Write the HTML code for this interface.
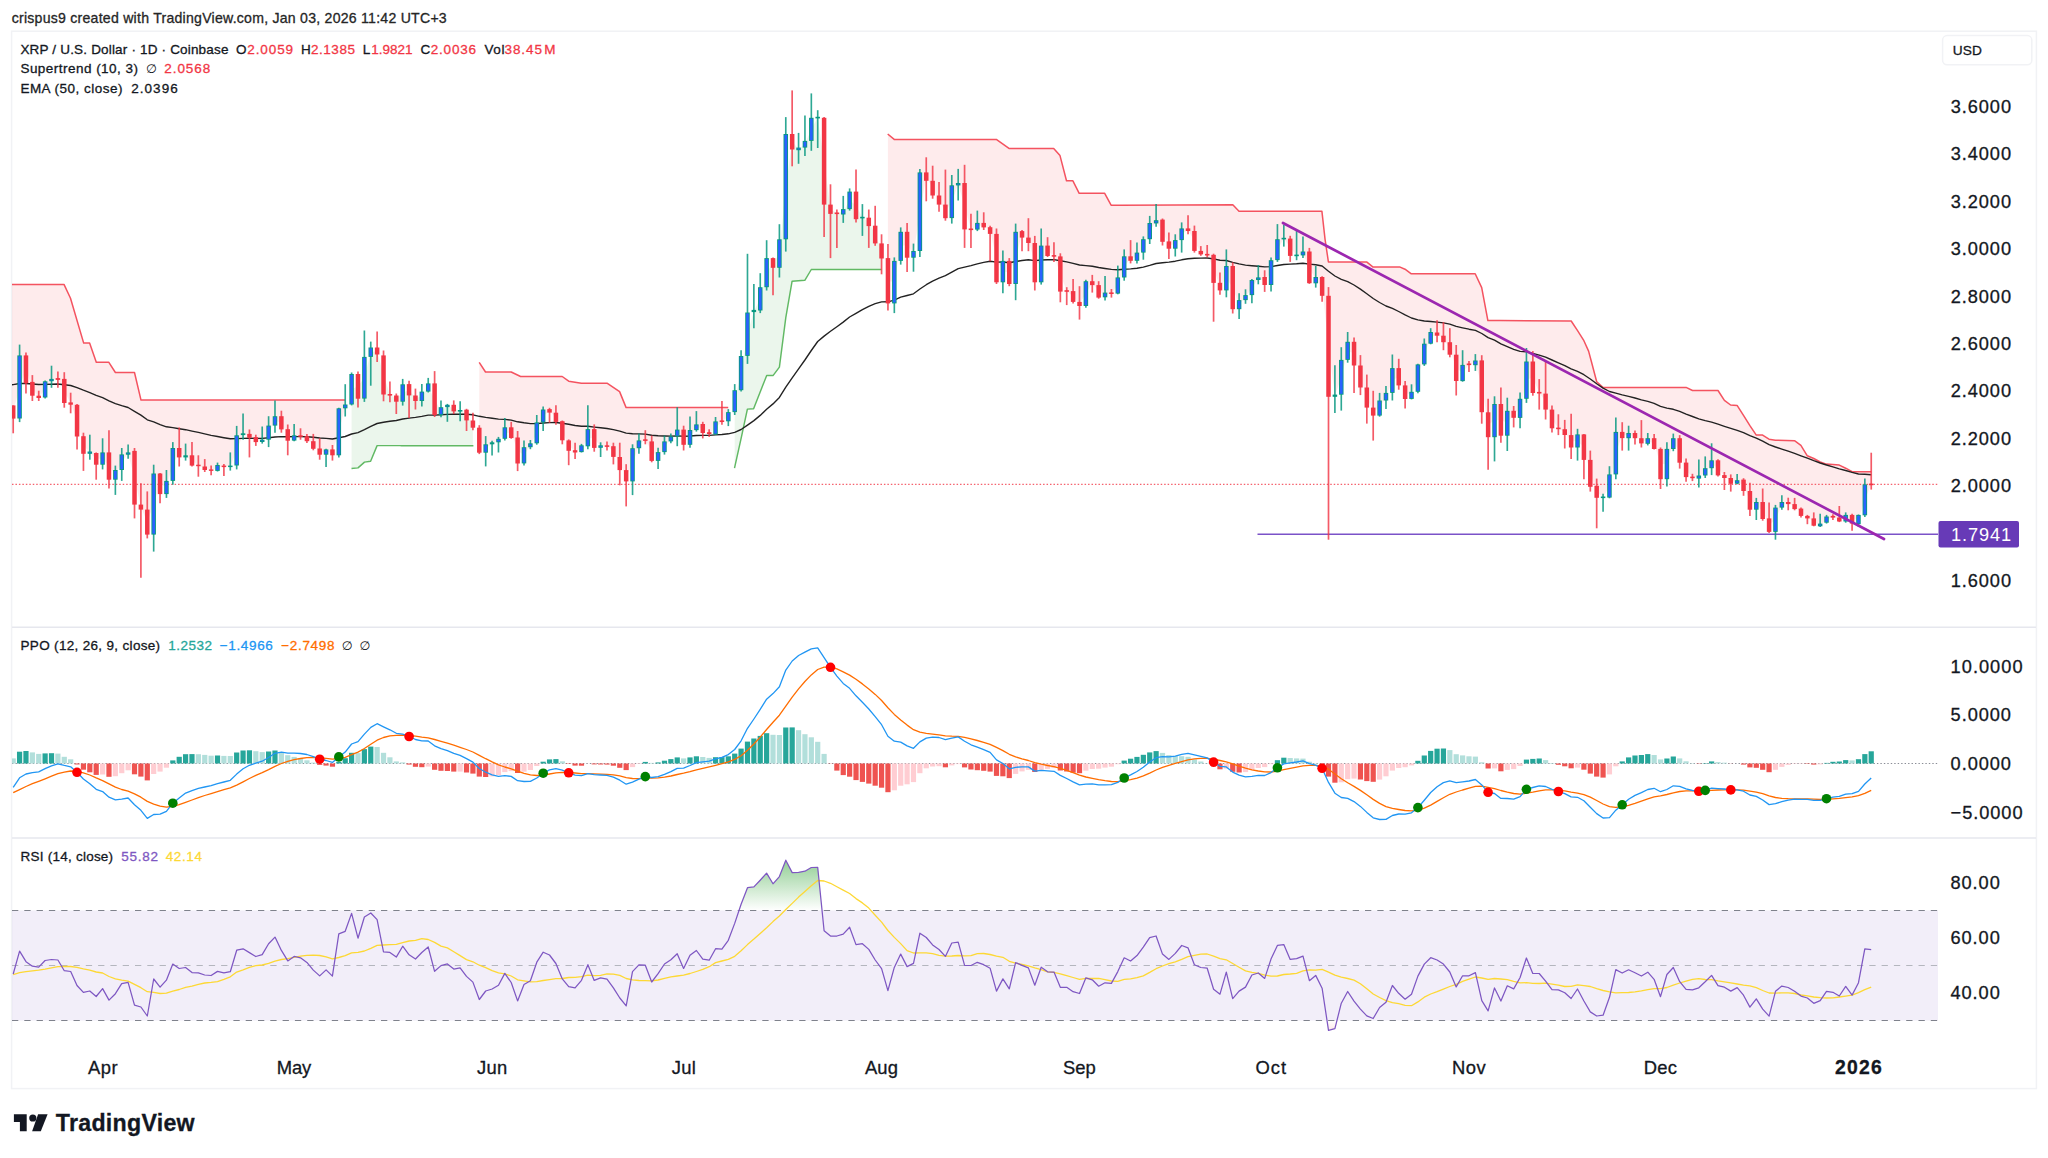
<!DOCTYPE html>
<html><head><meta charset="utf-8"><title>XRP / U.S. Dollar</title>
<style>
html,body{margin:0;padding:0;background:#fff;}
body{width:2048px;height:1158px;overflow:hidden;position:relative;font-family:"Liberation Sans",sans-serif;color:#131722;}
svg{position:absolute;left:0;top:0;}
.t{position:absolute;white-space:nowrap;line-height:1;}
text{font-family:"Liberation Sans",sans-serif;stroke-width:0.3px;}
.red{color:#f23645}
</style></head><body>
<svg width="2048" height="1158" viewBox="0 0 2048 1158">
<defs>
<clipPath id="cpMain"><rect x="12" y="32" width="1926" height="595"/></clipPath>
<clipPath id="cpPPO"><rect x="12" y="628" width="1926" height="210"/></clipPath>
<clipPath id="cpRSI"><rect x="12" y="839" width="1926" height="205"/></clipPath>
<linearGradient id="obg" gradientUnits="userSpaceOnUse" x1="0" y1="828.0" x2="0" y2="910.5"><stop offset="0" stop-color="#4caf50" stop-opacity="1"/><stop offset="1" stop-color="#4caf50" stop-opacity="0"/></linearGradient>
<linearGradient id="osg" gradientUnits="userSpaceOnUse" x1="0" y1="1020.5" x2="0" y2="1103.0"><stop offset="0" stop-color="#f44336" stop-opacity="0"/><stop offset="1" stop-color="#f44336" stop-opacity="1"/></linearGradient>
</defs>
<rect x="11.6" y="31.2" width="2024.8" height="1057.4" fill="none" stroke="#f1f2f5" stroke-width="1.5"/>
<line x1="12" y1="627.3" x2="2036" y2="627.3" stroke="#e6e7ee" stroke-width="1.6"/>
<line x1="12" y1="838.0" x2="2036" y2="838.0" stroke="#e6e7ee" stroke-width="1.6"/>
<g clip-path="url(#cpMain)">
<polygon points="12.0,284.4 64.0,284.4 70.5,298.2 83.7,343.1 89.6,343.1 96.3,362.2 108.7,362.2 115.4,372.5 134.5,372.5 141.0,400.1 345.1,400.1 345.2,406.4 338.8,431.8 332.4,452.4 326.1,452.1 319.7,451.6 313.3,445.0 306.9,438.7 300.5,436.1 294.1,438.0 287.8,434.9 281.4,422.8 275.0,420.9 268.6,432.7 262.2,440.9 255.8,439.6 249.4,435.8 243.1,434.2 236.7,450.5 230.3,466.3 223.9,466.3 217.5,467.9 211.1,470.1 204.7,468.2 198.4,465.4 192.0,460.4 185.6,456.3 179.2,452.7 172.8,464.4 166.4,487.5 160.1,483.8 153.7,504.1 147.3,522.1 140.9,507.1 134.5,477.8 128.1,453.5 121.7,462.2 115.4,474.8 109.0,466.0 102.6,458.5 96.2,458.8 89.8,452.7 83.4,445.0 77.0,420.6 70.7,403.6 64.3,391.0 57.9,378.9 51.5,380.1 45.1,389.4 38.7,396.9 32.4,388.8 26.0,369.4 19.6,387.0 13.2,412.0 12.0,412.0" fill="rgba(242,54,69,0.10)"/>
<polygon points="479.3,362.3 485.5,372.0 511.2,372.0 520.6,376.5 562.2,376.5 568.7,381.2 581.4,383.2 607.0,383.2 619.6,391.6 626.1,407.6 728.2,407.6 728.3,416.7 721.9,421.2 715.6,428.0 709.2,433.1 702.8,428.5 696.4,427.2 690.0,437.5 683.6,437.3 677.2,433.1 670.9,438.9 664.5,446.7 658.1,456.5 651.7,451.1 645.3,440.1 638.9,444.3 632.5,464.8 626.2,475.7 619.8,463.5 613.4,451.6 607.0,446.1 600.6,446.5 594.2,438.4 587.9,437.7 581.5,448.7 575.1,451.3 568.7,445.6 562.3,430.8 555.9,417.2 549.5,410.9 543.2,416.0 536.8,432.9 530.4,445.3 524.0,455.3 517.6,450.4 511.2,432.7 504.8,433.1 498.5,440.6 492.1,443.3 485.7,448.5 479.3,440.2" fill="rgba(242,54,69,0.10)"/>
<polygon points="887.9,134.0 894.2,139.4 996.3,139.4 1009.0,148.4 1053.7,148.4 1060.0,155.6 1066.5,180.8 1072.9,180.8 1079.2,193.3 1104.7,193.3 1111.1,205.2 1120.0,205.2 1232.8,204.7 1239.0,211.2 1321.9,211.2 1325.1,239.6 1328.4,261.9 1366.6,261.9 1373.1,267.1 1400.1,267.1 1405.0,269.2 1411.3,273.8 1475.2,273.8 1481.7,287.6 1487.9,320.6 1500.0,320.6 1571.2,321.0 1577.4,330.4 1583.9,340.7 1588.6,351.1 1591.9,363.5 1596.7,381.8 1602.9,387.4 1686.1,387.4 1692.5,390.5 1718.0,390.5 1724.4,400.4 1730.6,405.0 1737.1,405.4 1743.5,415.4 1749.9,425.7 1756.3,435.1 1762.6,435.1 1769.0,439.2 1775.4,440.2 1794.5,440.7 1800.9,445.4 1807.3,455.8 1813.8,458.5 1820.2,462.0 1826.4,464.1 1839.3,465.1 1845.7,468.2 1852.1,471.7 1871.2,471.7 1871.2,484.4 1864.8,499.8 1858.5,519.5 1852.1,519.2 1845.7,518.2 1839.3,519.5 1832.9,516.7 1826.5,519.6 1820.2,524.9 1813.8,522.0 1807.4,517.1 1801.0,512.3 1794.6,506.6 1788.2,503.1 1781.8,504.8 1775.5,519.7 1769.1,525.1 1762.7,510.5 1756.3,505.8 1749.9,500.4 1743.5,485.3 1737.2,482.0 1730.8,480.9 1724.4,476.5 1718.0,467.9 1711.6,464.3 1705.2,471.9 1698.8,477.0 1692.5,477.4 1686.1,469.9 1679.7,450.4 1673.3,443.6 1666.9,464.1 1660.5,464.1 1654.1,443.6 1647.8,441.0 1641.4,440.8 1635.0,435.6 1628.6,435.6 1622.2,435.1 1615.8,453.2 1609.5,486.1 1603.1,497.3 1596.7,491.9 1590.3,473.4 1583.9,447.2 1577.5,441.0 1571.1,441.3 1564.8,432.2 1558.4,428.4 1552.0,418.9 1545.6,401.6 1539.2,392.7 1532.8,377.2 1526.4,380.1 1520.1,408.3 1513.7,414.3 1507.3,423.2 1500.9,419.8 1494.5,420.5 1488.1,424.7 1481.8,386.3 1475.4,362.9 1469.0,364.3 1462.6,372.9 1456.2,367.9 1449.8,348.4 1443.4,338.9 1437.1,334.1 1430.7,337.9 1424.3,354.1 1417.9,378.1 1411.5,395.4 1405.1,392.2 1398.7,376.7 1392.4,380.5 1386.0,396.7 1379.6,408.0 1373.2,411.6 1366.8,397.6 1360.4,376.5 1354.0,353.6 1347.7,350.8 1341.3,377.3 1334.9,395.7 1328.5,346.3 1322.1,286.4 1315.7,280.1 1309.4,267.4 1303.0,253.5 1296.6,255.4 1290.2,247.2 1283.8,238.6 1277.4,249.7 1271.0,272.6 1264.7,281.0 1258.3,278.7 1251.9,287.6 1245.5,297.6 1239.1,304.6 1232.7,287.6 1226.3,278.2 1220.0,286.6 1213.6,268.8 1207.2,254.7 1200.8,252.6 1194.4,240.9 1188.0,229.7 1181.7,234.3 1175.3,244.4 1168.9,245.0 1162.5,230.7 1156.1,221.8 1149.7,231.1 1143.3,245.9 1137.0,256.7 1130.6,258.5 1124.2,266.8 1117.8,285.5 1111.4,293.2 1105.0,295.0 1098.7,291.3 1092.3,283.1 1085.9,293.6 1079.5,304.0 1073.1,296.5 1066.7,291.0 1060.3,274.0 1054.0,255.9 1047.6,250.8 1041.2,263.9 1034.8,262.6 1028.4,240.3 1022.0,234.3 1015.6,257.9 1009.3,272.4 1002.9,271.6 996.5,258.1 990.1,230.6 983.7,225.2 977.3,226.2 971.0,229.3 964.6,206.2 958.2,184.2 951.8,201.7 945.4,211.4 939.0,200.0 932.6,188.1 926.3,176.6 919.9,211.7 913.5,254.3 907.1,244.7 900.7,246.3 894.3,282.2 887.9,280.8" fill="rgba(242,54,69,0.10)"/>
<polygon points="351.6,468.5 358.0,467.9 364.5,462.1 370.6,461.2 377.1,445.6 400.0,445.6 401.5,445.7 472.9,445.7 472.9,424.1 466.5,415.1 460.1,410.8 453.8,408.2 447.4,406.0 441.0,411.1 434.6,399.2 428.2,387.5 421.8,396.2 415.5,398.2 409.1,389.8 402.7,393.0 396.3,398.6 389.9,394.8 383.5,375.0 377.1,351.0 370.8,352.2 364.4,377.8 358.0,386.3 351.6,389.2" fill="rgba(76,175,80,0.11)"/>
<polygon points="734.7,468.1 740.9,439.4 747.4,409.1 753.6,408.8 766.7,375.4 773.2,375.4 779.4,367.1 785.8,317.7 792.1,281.2 804.8,280.3 811.3,269.5 881.5,269.5 881.6,251.0 875.2,234.6 868.8,221.9 862.4,217.6 856.0,205.4 849.6,200.3 843.2,211.8 836.9,213.3 830.5,209.2 824.1,161.2 817.7,117.6 811.3,129.3 804.9,144.2 798.6,148.9 792.2,141.7 785.8,186.6 779.4,253.6 773.0,262.9 766.6,272.7 760.2,298.9 753.9,311.0 747.5,334.2 741.1,373.1 734.7,401.1" fill="rgba(76,175,80,0.11)"/>
<polyline points="12.0,284.4 64.0,284.4 70.5,298.2 83.7,343.1 89.6,343.1 96.3,362.2 108.7,362.2 115.4,372.5 134.5,372.5 141.0,400.1 345.1,400.1" fill="none" stroke="#f23645" stroke-opacity="0.85" stroke-width="1.5" stroke-linejoin="round"/>
<polyline points="479.2,362.3 485.5,372.0 511.2,372.0 520.6,376.5 562.2,376.5 568.7,381.2 581.4,383.2 607.0,383.2 619.6,391.6 626.1,407.6 728.2,407.6" fill="none" stroke="#f23645" stroke-opacity="0.85" stroke-width="1.5" stroke-linejoin="round"/>
<polyline points="887.7,134.0 894.2,139.4 996.3,139.4 1009.0,148.4 1053.7,148.4 1060.0,155.6 1066.5,180.8 1072.9,180.8 1079.2,193.3 1104.7,193.3 1111.1,205.2 1120.0,205.2 1232.8,204.7 1239.0,211.2 1321.9,211.2 1325.1,239.6 1328.4,261.9 1366.6,261.9 1373.1,267.1 1400.1,267.1 1405.0,269.2 1411.3,273.8 1475.2,273.8 1481.7,287.6 1487.9,320.6 1500.0,320.6 1571.2,321.0 1577.4,330.4 1583.9,340.7 1588.6,351.1 1591.9,363.5 1596.7,381.8 1602.9,387.4 1686.1,387.4 1692.5,390.5 1718.0,390.5 1724.4,400.4 1730.6,405.0 1737.1,405.4 1743.5,415.4 1749.9,425.7 1756.3,435.1 1762.6,435.1 1769.0,439.2 1775.4,440.2 1794.5,440.7 1800.9,445.4 1807.3,455.8 1813.8,458.5 1820.2,462.0 1826.4,464.1 1839.3,465.1 1845.7,468.2 1852.1,471.7 1871.2,471.7" fill="none" stroke="#f23645" stroke-opacity="0.85" stroke-width="1.5" stroke-linejoin="round"/>
<polyline points="351.5,468.5 358.0,467.9 364.5,462.1 370.6,461.2 377.1,445.6 400.0,445.6 401.5,445.7 473.4,445.7" fill="none" stroke="#4caf50" stroke-opacity="0.88" stroke-width="1.45" stroke-linejoin="round"/>
<polyline points="734.5,468.1 740.9,439.4 747.4,409.1 753.6,408.8 766.7,375.4 773.2,375.4 779.4,367.1 785.8,317.7 792.1,281.2 804.8,280.3 811.3,269.5 881.5,269.5" fill="none" stroke="#4caf50" stroke-opacity="0.88" stroke-width="1.45" stroke-linejoin="round"/>
<line x1="12" y1="484.4" x2="1938" y2="484.4" stroke="#f23645" stroke-opacity="0.78" stroke-width="1.4" stroke-dasharray="1.5 1.96"/>
<line x1="1257.5" y1="534.2" x2="1938" y2="534.2" stroke="#7b52c8" stroke-width="1.5"/>
<polyline points="12.0,384.7 13.2,384.6 19.6,383.5 26.0,383.5 32.4,384.0 38.7,384.5 45.1,384.4 51.5,384.2 57.9,384.0 64.3,384.8 70.7,385.5 77.0,387.6 83.4,390.2 89.8,392.6 96.2,395.4 102.6,397.7 109.0,400.9 115.4,403.6 121.7,405.7 128.1,407.5 134.5,411.3 140.9,415.1 147.3,419.8 153.7,421.8 160.1,424.6 166.4,426.8 172.8,427.6 179.2,428.7 185.6,429.7 192.0,431.1 198.4,432.4 204.7,433.9 211.1,435.4 217.5,436.5 223.9,437.7 230.3,438.8 236.7,438.6 243.1,438.4 249.4,438.3 255.8,438.4 262.2,438.4 268.6,437.8 275.0,437.0 281.4,436.6 287.8,436.7 294.1,436.6 300.5,436.6 306.9,436.8 313.3,437.3 319.7,438.0 326.1,438.4 332.4,439.0 338.8,437.8 345.2,436.5 351.6,434.0 358.0,432.6 364.4,429.6 370.8,426.3 377.1,423.5 383.5,422.3 389.9,421.3 396.3,420.5 402.7,419.0 409.1,418.1 415.5,417.4 421.8,416.4 428.2,415.1 434.6,415.1 441.0,414.8 447.4,414.4 453.8,414.2 460.1,414.1 466.5,414.3 472.9,414.8 479.3,416.3 485.7,417.4 492.1,418.3 498.5,419.1 504.8,419.4 511.2,420.1 517.6,421.8 524.0,422.8 530.4,423.6 536.8,423.6 543.2,423.0 549.5,422.6 555.9,422.5 562.3,423.3 568.7,424.3 575.1,425.5 581.5,426.2 587.9,426.3 594.2,427.1 600.6,427.8 607.0,428.5 613.4,429.6 619.8,431.2 626.2,433.1 632.5,433.7 638.9,433.9 645.3,434.1 651.7,435.2 658.1,435.8 664.5,436.0 670.9,436.1 677.2,435.9 683.6,436.2 690.0,436.0 696.4,435.5 702.8,435.4 709.2,435.4 715.6,434.9 721.9,434.5 728.3,433.8 734.7,432.3 741.1,429.5 747.5,425.1 753.9,420.6 760.2,415.4 766.6,409.3 773.0,403.9 779.4,397.4 785.8,387.2 792.2,377.9 798.6,368.9 804.9,360.0 811.3,350.5 817.7,341.5 824.1,336.1 830.5,331.3 836.9,326.7 843.2,322.1 849.6,317.0 856.0,313.3 862.4,309.6 868.8,306.3 875.2,303.7 881.6,301.9 887.9,301.8 894.3,300.1 900.7,297.2 907.1,295.5 913.5,293.8 919.9,289.0 926.3,284.7 932.6,281.1 939.0,278.1 945.4,275.7 951.8,272.2 958.2,268.6 964.6,267.1 971.0,265.6 977.3,263.9 983.7,262.4 990.1,261.2 996.5,262.1 1002.9,262.0 1009.3,262.8 1015.6,261.5 1022.0,260.5 1028.4,259.8 1034.8,260.6 1041.2,260.0 1047.6,259.8 1054.0,259.6 1060.3,260.8 1066.7,261.9 1073.1,263.4 1079.5,265.0 1085.9,265.6 1092.3,266.3 1098.7,267.5 1105.0,268.5 1111.4,269.4 1117.8,269.8 1124.2,269.2 1130.6,268.9 1137.0,268.2 1143.3,267.1 1149.7,265.4 1156.1,263.5 1162.5,262.7 1168.9,262.1 1175.3,261.2 1181.7,259.8 1188.0,258.7 1194.4,258.3 1200.8,258.1 1207.2,258.0 1213.6,258.9 1220.0,260.2 1226.3,260.5 1232.7,262.4 1239.1,263.9 1245.5,265.1 1251.9,265.7 1258.3,266.2 1264.7,266.9 1271.0,266.6 1277.4,265.5 1283.8,264.5 1290.2,264.1 1296.6,263.8 1303.0,263.3 1309.4,264.1 1315.7,264.7 1322.1,266.0 1328.5,271.2 1334.9,276.0 1341.3,279.3 1347.7,281.7 1354.0,285.0 1360.4,289.1 1366.8,293.7 1373.2,298.5 1379.6,302.5 1386.0,306.0 1392.4,308.4 1398.7,311.5 1405.1,314.9 1411.5,318.0 1417.9,319.9 1424.3,321.0 1430.7,321.5 1437.1,322.1 1443.4,322.9 1449.8,324.1 1456.2,326.3 1462.6,327.8 1469.0,329.2 1475.4,330.4 1481.8,333.5 1488.1,337.6 1494.5,340.2 1500.9,343.9 1507.3,346.6 1513.7,349.4 1520.1,351.4 1526.4,351.8 1532.8,353.5 1539.2,355.1 1545.6,357.2 1552.0,360.0 1558.4,362.8 1564.8,365.6 1571.1,368.8 1577.5,371.3 1583.9,374.7 1590.3,379.0 1596.7,383.7 1603.1,388.1 1609.5,391.5 1615.8,393.1 1622.2,394.9 1628.6,396.4 1635.0,398.0 1641.4,399.9 1647.8,401.4 1654.1,403.3 1660.5,406.4 1666.9,408.1 1673.3,409.3 1679.7,411.4 1686.1,414.1 1692.5,416.5 1698.8,418.8 1705.2,420.7 1711.6,422.2 1718.0,424.2 1724.4,426.3 1730.8,428.4 1737.2,430.4 1743.5,432.7 1749.9,435.6 1756.3,438.1 1762.7,441.2 1769.1,444.6 1775.5,447.0 1781.8,449.1 1788.2,451.2 1794.6,453.4 1801.0,455.8 1807.4,458.2 1813.8,460.7 1820.2,463.0 1826.5,465.0 1832.9,466.9 1839.3,468.8 1845.7,470.5 1852.1,472.4 1858.5,474.0 1864.8,474.3 1871.2,474.7" fill="none" stroke="#222" stroke-width="1.38" stroke-linejoin="round"/>
<path d="M13.20 405.4V433.3" stroke="#f23645" stroke-opacity="0.82" stroke-width="1.7"/>
<rect x="10.95" y="405.4" width="4.5" height="13.2" fill="#f23645"/>
<path d="M19.59 344.6V422.1" stroke="#089981" stroke-opacity="0.85" stroke-width="1.65"/>
<rect x="17.34" y="355.4" width="4.5" height="63.1" fill="#089981"/>
<rect x="18.23" y="356.3" width="2.7" height="61.3" fill="#2962ff"/>
<path d="M25.97 352.5V393.6" stroke="#f23645" stroke-opacity="0.82" stroke-width="1.7"/>
<rect x="23.72" y="355.4" width="4.5" height="27.9" fill="#f23645"/>
<path d="M32.36 375.1V401.0" stroke="#f23645" stroke-opacity="0.82" stroke-width="1.7"/>
<rect x="30.11" y="381.9" width="4.5" height="13.8" fill="#f23645"/>
<path d="M38.74 390.7V401.0" stroke="#f23645" stroke-opacity="0.82" stroke-width="1.7"/>
<rect x="36.49" y="395.7" width="4.5" height="2.3" fill="#f23645"/>
<path d="M45.12 380.4V398.6" stroke="#089981" stroke-opacity="0.85" stroke-width="1.65"/>
<rect x="42.88" y="381.3" width="4.5" height="16.2" fill="#089981"/>
<rect x="43.77" y="382.2" width="2.7" height="14.4" fill="#2962ff"/>
<path d="M51.51 365.7V387.8" stroke="#089981" stroke-opacity="0.85" stroke-width="1.65"/>
<rect x="49.26" y="378.9" width="4.5" height="2.3" fill="#089981"/>
<rect x="50.16" y="379.8" width="2.7" height="0.5" fill="#2962ff"/>
<path d="M57.89 371.6V387.8" stroke="#f23645" stroke-opacity="0.82" stroke-width="1.7"/>
<rect x="55.64" y="378.1" width="4.5" height="1.8" fill="#f23645"/>
<path d="M64.28 372.2V407.7" stroke="#f23645" stroke-opacity="0.82" stroke-width="1.7"/>
<rect x="62.03" y="378.9" width="4.5" height="24.1" fill="#f23645"/>
<path d="M70.66 392.7V413.3" stroke="#f23645" stroke-opacity="0.82" stroke-width="1.7"/>
<rect x="68.41" y="402.4" width="4.5" height="2.3" fill="#f23645"/>
<path d="M77.05 403.9V449.4" stroke="#f23645" stroke-opacity="0.82" stroke-width="1.7"/>
<rect x="74.80" y="404.8" width="4.5" height="31.7" fill="#f23645"/>
<path d="M83.44 432.7V470.9" stroke="#f23645" stroke-opacity="0.82" stroke-width="1.7"/>
<rect x="81.19" y="436.2" width="4.5" height="17.6" fill="#f23645"/>
<path d="M89.82 434.7V459.7" stroke="#089981" stroke-opacity="0.85" stroke-width="1.65"/>
<rect x="87.57" y="451.5" width="4.5" height="2.3" fill="#089981"/>
<rect x="88.47" y="452.4" width="2.7" height="0.5" fill="#2962ff"/>
<path d="M96.20 452.4V479.7" stroke="#f23645" stroke-opacity="0.82" stroke-width="1.7"/>
<rect x="93.95" y="453.0" width="4.5" height="11.7" fill="#f23645"/>
<path d="M102.59 438.3V469.4" stroke="#089981" stroke-opacity="0.85" stroke-width="1.65"/>
<rect x="100.34" y="452.4" width="4.5" height="12.3" fill="#089981"/>
<rect x="101.24" y="453.3" width="2.7" height="10.5" fill="#2962ff"/>
<path d="M108.97 430.3V488.5" stroke="#f23645" stroke-opacity="0.82" stroke-width="1.7"/>
<rect x="106.72" y="452.4" width="4.5" height="27.3" fill="#f23645"/>
<path d="M115.36 465.6V494.9" stroke="#089981" stroke-opacity="0.85" stroke-width="1.65"/>
<rect x="113.11" y="470.0" width="4.5" height="9.7" fill="#089981"/>
<rect x="114.01" y="470.9" width="2.7" height="7.9" fill="#2962ff"/>
<path d="M121.75 448.0V480.9" stroke="#089981" stroke-opacity="0.85" stroke-width="1.65"/>
<rect x="119.50" y="454.4" width="4.5" height="15.6" fill="#089981"/>
<rect x="120.40" y="455.3" width="2.7" height="13.8" fill="#2962ff"/>
<path d="M128.13 444.4V458.8" stroke="#089981" stroke-opacity="0.85" stroke-width="1.65"/>
<rect x="125.88" y="452.4" width="4.5" height="2.3" fill="#089981"/>
<rect x="126.78" y="453.3" width="2.7" height="0.5" fill="#2962ff"/>
<path d="M134.51 448.0V518.4" stroke="#f23645" stroke-opacity="0.82" stroke-width="1.7"/>
<rect x="132.26" y="450.9" width="4.5" height="53.7" fill="#f23645"/>
<path d="M140.90 483.2V577.8" stroke="#f23645" stroke-opacity="0.82" stroke-width="1.7"/>
<rect x="138.65" y="504.6" width="4.5" height="5.0" fill="#f23645"/>
<path d="M147.28 491.4V538.4" stroke="#f23645" stroke-opacity="0.82" stroke-width="1.7"/>
<rect x="145.03" y="509.6" width="4.5" height="25.0" fill="#f23645"/>
<path d="M153.67 464.7V551.6" stroke="#089981" stroke-opacity="0.85" stroke-width="1.65"/>
<rect x="151.42" y="473.5" width="4.5" height="61.1" fill="#089981"/>
<rect x="152.32" y="474.4" width="2.7" height="59.3" fill="#2962ff"/>
<path d="M160.05 472.9V503.2" stroke="#f23645" stroke-opacity="0.82" stroke-width="1.7"/>
<rect x="157.80" y="473.5" width="4.5" height="20.6" fill="#f23645"/>
<path d="M166.44 470.0V497.9" stroke="#089981" stroke-opacity="0.85" stroke-width="1.65"/>
<rect x="164.19" y="480.9" width="4.5" height="13.2" fill="#089981"/>
<rect x="165.09" y="481.8" width="2.7" height="11.4" fill="#2962ff"/>
<path d="M172.82 442.1V484.7" stroke="#089981" stroke-opacity="0.85" stroke-width="1.65"/>
<rect x="170.57" y="448.0" width="4.5" height="32.9" fill="#089981"/>
<rect x="171.47" y="448.9" width="2.7" height="31.1" fill="#2962ff"/>
<path d="M179.21 427.4V466.5" stroke="#f23645" stroke-opacity="0.82" stroke-width="1.7"/>
<rect x="176.96" y="448.0" width="4.5" height="9.4" fill="#f23645"/>
<path d="M185.59 443.6V460.6" stroke="#089981" stroke-opacity="0.85" stroke-width="1.65"/>
<rect x="183.34" y="455.3" width="4.5" height="2.1" fill="#089981"/>
<path d="M191.98 442.1V466.5" stroke="#f23645" stroke-opacity="0.82" stroke-width="1.7"/>
<rect x="189.73" y="455.3" width="4.5" height="10.3" fill="#f23645"/>
<path d="M198.36 455.3V476.7" stroke="#f23645" stroke-opacity="0.82" stroke-width="1.7"/>
<rect x="196.11" y="464.7" width="4.5" height="1.5" fill="#f23645"/>
<path d="M204.75 459.1V472.0" stroke="#f23645" stroke-opacity="0.82" stroke-width="1.7"/>
<rect x="202.50" y="466.5" width="4.5" height="3.5" fill="#f23645"/>
<path d="M211.13 465.6V475.3" stroke="#f23645" stroke-opacity="0.82" stroke-width="1.7"/>
<rect x="208.88" y="469.4" width="4.5" height="1.5" fill="#f23645"/>
<path d="M217.52 462.6V471.5" stroke="#089981" stroke-opacity="0.85" stroke-width="1.65"/>
<rect x="215.27" y="465.0" width="4.5" height="5.9" fill="#089981"/>
<rect x="216.17" y="465.9" width="2.7" height="4.1" fill="#2962ff"/>
<path d="M223.90 464.1V475.9" stroke="#f23645" stroke-opacity="0.82" stroke-width="1.7"/>
<rect x="221.65" y="465.6" width="4.5" height="1.5" fill="#f23645"/>
<path d="M230.29 452.4V470.6" stroke="#089981" stroke-opacity="0.85" stroke-width="1.65"/>
<rect x="228.04" y="465.6" width="4.5" height="1.5" fill="#089981"/>
<path d="M236.67 425.9V469.4" stroke="#089981" stroke-opacity="0.85" stroke-width="1.65"/>
<rect x="234.42" y="435.3" width="4.5" height="30.2" fill="#089981"/>
<rect x="235.32" y="436.2" width="2.7" height="28.4" fill="#2962ff"/>
<path d="M243.06 413.6V439.7" stroke="#089981" stroke-opacity="0.85" stroke-width="1.65"/>
<rect x="240.81" y="433.3" width="4.5" height="1.8" fill="#089981"/>
<path d="M249.44 429.5V457.4" stroke="#f23645" stroke-opacity="0.82" stroke-width="1.7"/>
<rect x="247.19" y="433.9" width="4.5" height="3.8" fill="#f23645"/>
<path d="M255.83 434.7V445.9" stroke="#f23645" stroke-opacity="0.82" stroke-width="1.7"/>
<rect x="253.58" y="437.1" width="4.5" height="5.0" fill="#f23645"/>
<path d="M262.21 426.5V443.6" stroke="#089981" stroke-opacity="0.85" stroke-width="1.65"/>
<rect x="259.96" y="439.7" width="4.5" height="2.3" fill="#089981"/>
<rect x="260.86" y="440.6" width="2.7" height="0.5" fill="#2962ff"/>
<path d="M268.60 416.2V447.1" stroke="#089981" stroke-opacity="0.85" stroke-width="1.65"/>
<rect x="266.35" y="425.6" width="4.5" height="14.1" fill="#089981"/>
<rect x="267.25" y="426.5" width="2.7" height="12.3" fill="#2962ff"/>
<path d="M274.98 400.4V432.7" stroke="#089981" stroke-opacity="0.85" stroke-width="1.65"/>
<rect x="272.73" y="416.2" width="4.5" height="9.4" fill="#089981"/>
<rect x="273.63" y="417.1" width="2.7" height="7.6" fill="#2962ff"/>
<path d="M281.37 410.7V432.7" stroke="#f23645" stroke-opacity="0.82" stroke-width="1.7"/>
<rect x="279.12" y="416.2" width="4.5" height="13.2" fill="#f23645"/>
<path d="M287.75 424.5V455.3" stroke="#f23645" stroke-opacity="0.82" stroke-width="1.7"/>
<rect x="285.50" y="429.2" width="4.5" height="11.5" fill="#f23645"/>
<path d="M294.14 423.9V441.2" stroke="#089981" stroke-opacity="0.85" stroke-width="1.65"/>
<rect x="291.89" y="435.3" width="4.5" height="5.3" fill="#089981"/>
<rect x="292.79" y="436.2" width="2.7" height="3.5" fill="#2962ff"/>
<path d="M300.52 428.3V439.7" stroke="#f23645" stroke-opacity="0.82" stroke-width="1.7"/>
<rect x="298.27" y="435.3" width="4.5" height="1.5" fill="#f23645"/>
<path d="M306.91 433.9V443.0" stroke="#f23645" stroke-opacity="0.82" stroke-width="1.7"/>
<rect x="304.66" y="436.2" width="4.5" height="5.0" fill="#f23645"/>
<path d="M313.29 433.9V450.3" stroke="#f23645" stroke-opacity="0.82" stroke-width="1.7"/>
<rect x="311.04" y="441.2" width="4.5" height="7.6" fill="#f23645"/>
<path d="M319.68 438.3V459.7" stroke="#f23645" stroke-opacity="0.82" stroke-width="1.7"/>
<rect x="317.43" y="448.5" width="4.5" height="6.2" fill="#f23645"/>
<path d="M326.06 448.8V467.0" stroke="#089981" stroke-opacity="0.85" stroke-width="1.65"/>
<rect x="323.81" y="449.4" width="4.5" height="5.3" fill="#089981"/>
<rect x="324.71" y="450.3" width="2.7" height="3.5" fill="#2962ff"/>
<path d="M332.45 445.0V460.6" stroke="#f23645" stroke-opacity="0.82" stroke-width="1.7"/>
<rect x="330.20" y="449.4" width="4.5" height="5.9" fill="#f23645"/>
<path d="M338.83 407.7V457.4" stroke="#089981" stroke-opacity="0.85" stroke-width="1.65"/>
<rect x="336.58" y="408.3" width="4.5" height="47.0" fill="#089981"/>
<rect x="337.48" y="409.2" width="2.7" height="45.2" fill="#2962ff"/>
<path d="M345.22 384.2V416.5" stroke="#089981" stroke-opacity="0.85" stroke-width="1.65"/>
<rect x="342.97" y="404.5" width="4.5" height="3.8" fill="#089981"/>
<rect x="343.87" y="405.4" width="2.7" height="2.0" fill="#2962ff"/>
<path d="M351.60 372.5V405.4" stroke="#089981" stroke-opacity="0.85" stroke-width="1.65"/>
<rect x="349.35" y="374.0" width="4.5" height="30.5" fill="#089981"/>
<rect x="350.25" y="374.9" width="2.7" height="28.7" fill="#2962ff"/>
<path d="M357.99 371.6V407.4" stroke="#f23645" stroke-opacity="0.82" stroke-width="1.7"/>
<rect x="355.74" y="374.0" width="4.5" height="24.7" fill="#f23645"/>
<path d="M364.38 330.5V401.9" stroke="#089981" stroke-opacity="0.85" stroke-width="1.65"/>
<rect x="362.12" y="356.9" width="4.5" height="41.7" fill="#089981"/>
<rect x="363.02" y="357.8" width="2.7" height="39.9" fill="#2962ff"/>
<path d="M370.76 341.6V385.7" stroke="#089981" stroke-opacity="0.85" stroke-width="1.65"/>
<rect x="368.51" y="347.5" width="4.5" height="9.4" fill="#089981"/>
<rect x="369.41" y="348.4" width="2.7" height="7.6" fill="#2962ff"/>
<path d="M377.14 331.4V361.9" stroke="#f23645" stroke-opacity="0.82" stroke-width="1.7"/>
<rect x="374.89" y="347.5" width="4.5" height="7.0" fill="#f23645"/>
<path d="M383.53 350.5V401.3" stroke="#f23645" stroke-opacity="0.82" stroke-width="1.7"/>
<rect x="381.28" y="355.4" width="4.5" height="39.1" fill="#f23645"/>
<path d="M389.91 381.4V402.3" stroke="#f23645" stroke-opacity="0.82" stroke-width="1.7"/>
<rect x="387.66" y="394.0" width="4.5" height="1.6" fill="#f23645"/>
<path d="M396.30 393.5V414.0" stroke="#f23645" stroke-opacity="0.82" stroke-width="1.7"/>
<rect x="394.05" y="395.5" width="4.5" height="6.2" fill="#f23645"/>
<path d="M402.69 378.9V405.6" stroke="#089981" stroke-opacity="0.85" stroke-width="1.65"/>
<rect x="400.44" y="384.3" width="4.5" height="17.4" fill="#089981"/>
<rect x="401.33" y="385.2" width="2.7" height="15.6" fill="#2962ff"/>
<path d="M409.07 380.8V417.9" stroke="#f23645" stroke-opacity="0.82" stroke-width="1.7"/>
<rect x="406.82" y="384.1" width="4.5" height="11.3" fill="#f23645"/>
<path d="M415.45 388.6V409.5" stroke="#f23645" stroke-opacity="0.82" stroke-width="1.7"/>
<rect x="413.20" y="395.5" width="4.5" height="5.5" fill="#f23645"/>
<path d="M421.84 384.1V406.6" stroke="#089981" stroke-opacity="0.85" stroke-width="1.65"/>
<rect x="419.59" y="391.6" width="4.5" height="9.4" fill="#089981"/>
<rect x="420.49" y="392.5" width="2.7" height="7.6" fill="#2962ff"/>
<path d="M428.22 377.9V392.5" stroke="#089981" stroke-opacity="0.85" stroke-width="1.65"/>
<rect x="425.97" y="383.4" width="4.5" height="8.2" fill="#089981"/>
<rect x="426.87" y="384.3" width="2.7" height="6.4" fill="#2962ff"/>
<path d="M434.61 371.1V417.0" stroke="#f23645" stroke-opacity="0.82" stroke-width="1.7"/>
<rect x="432.36" y="383.4" width="4.5" height="31.6" fill="#f23645"/>
<path d="M440.99 400.4V417.3" stroke="#089981" stroke-opacity="0.85" stroke-width="1.65"/>
<rect x="438.74" y="407.2" width="4.5" height="7.8" fill="#089981"/>
<rect x="439.64" y="408.1" width="2.7" height="6.0" fill="#2962ff"/>
<path d="M447.38 403.9V421.8" stroke="#089981" stroke-opacity="0.85" stroke-width="1.65"/>
<rect x="445.13" y="404.8" width="4.5" height="2.3" fill="#089981"/>
<rect x="446.03" y="405.7" width="2.7" height="0.5" fill="#2962ff"/>
<path d="M453.76 400.4V414.0" stroke="#f23645" stroke-opacity="0.82" stroke-width="1.7"/>
<rect x="451.51" y="404.8" width="4.5" height="6.6" fill="#f23645"/>
<path d="M460.15 401.3V421.2" stroke="#089981" stroke-opacity="0.85" stroke-width="1.65"/>
<rect x="457.90" y="410.0" width="4.5" height="1.6" fill="#089981"/>
<path d="M466.53 408.8V431.0" stroke="#f23645" stroke-opacity="0.82" stroke-width="1.7"/>
<rect x="464.28" y="409.7" width="4.5" height="10.7" fill="#f23645"/>
<path d="M472.92 412.7V430.2" stroke="#f23645" stroke-opacity="0.82" stroke-width="1.7"/>
<rect x="470.67" y="420.5" width="4.5" height="7.2" fill="#f23645"/>
<path d="M479.30 425.2V454.1" stroke="#f23645" stroke-opacity="0.82" stroke-width="1.7"/>
<rect x="477.05" y="427.7" width="4.5" height="25.0" fill="#f23645"/>
<path d="M485.69 436.1V466.4" stroke="#089981" stroke-opacity="0.85" stroke-width="1.65"/>
<rect x="483.44" y="444.3" width="4.5" height="8.4" fill="#089981"/>
<rect x="484.34" y="445.2" width="2.7" height="6.6" fill="#2962ff"/>
<path d="M492.07 440.8V455.6" stroke="#089981" stroke-opacity="0.85" stroke-width="1.65"/>
<rect x="489.82" y="442.3" width="4.5" height="2.0" fill="#089981"/>
<path d="M498.46 436.9V452.5" stroke="#089981" stroke-opacity="0.85" stroke-width="1.65"/>
<rect x="496.21" y="438.8" width="4.5" height="3.5" fill="#089981"/>
<rect x="497.11" y="439.7" width="2.7" height="1.7" fill="#2962ff"/>
<path d="M504.84 417.9V440.4" stroke="#089981" stroke-opacity="0.85" stroke-width="1.65"/>
<rect x="502.59" y="427.3" width="4.5" height="11.5" fill="#089981"/>
<rect x="503.49" y="428.2" width="2.7" height="9.7" fill="#2962ff"/>
<path d="M511.23 421.8V438.8" stroke="#f23645" stroke-opacity="0.82" stroke-width="1.7"/>
<rect x="508.98" y="427.3" width="4.5" height="10.7" fill="#f23645"/>
<path d="M517.62 431.0V471.1" stroke="#f23645" stroke-opacity="0.82" stroke-width="1.7"/>
<rect x="515.37" y="437.5" width="4.5" height="26.0" fill="#f23645"/>
<path d="M524.00 440.4V465.4" stroke="#089981" stroke-opacity="0.85" stroke-width="1.65"/>
<rect x="521.75" y="447.2" width="4.5" height="16.2" fill="#089981"/>
<rect x="522.65" y="448.1" width="2.7" height="14.4" fill="#2962ff"/>
<path d="M530.38 440.0V449.2" stroke="#089981" stroke-opacity="0.85" stroke-width="1.65"/>
<rect x="528.13" y="443.3" width="4.5" height="3.9" fill="#089981"/>
<rect x="529.03" y="444.2" width="2.7" height="2.1" fill="#2962ff"/>
<path d="M536.77 415.0V444.7" stroke="#089981" stroke-opacity="0.85" stroke-width="1.65"/>
<rect x="534.52" y="422.4" width="4.5" height="20.9" fill="#089981"/>
<rect x="535.42" y="423.3" width="2.7" height="19.1" fill="#2962ff"/>
<path d="M543.15 406.6V431.0" stroke="#089981" stroke-opacity="0.85" stroke-width="1.65"/>
<rect x="540.90" y="409.5" width="4.5" height="12.9" fill="#089981"/>
<rect x="541.80" y="410.4" width="2.7" height="11.1" fill="#2962ff"/>
<path d="M549.54 407.8V422.8" stroke="#f23645" stroke-opacity="0.82" stroke-width="1.7"/>
<rect x="547.29" y="409.1" width="4.5" height="3.5" fill="#f23645"/>
<path d="M555.93 405.2V424.8" stroke="#f23645" stroke-opacity="0.82" stroke-width="1.7"/>
<rect x="553.68" y="412.7" width="4.5" height="9.2" fill="#f23645"/>
<path d="M562.31 420.5V444.3" stroke="#f23645" stroke-opacity="0.82" stroke-width="1.7"/>
<rect x="560.06" y="421.2" width="4.5" height="19.1" fill="#f23645"/>
<path d="M568.70 439.4V465.2" stroke="#f23645" stroke-opacity="0.82" stroke-width="1.7"/>
<rect x="566.45" y="440.4" width="4.5" height="10.4" fill="#f23645"/>
<path d="M575.08 442.7V458.9" stroke="#f23645" stroke-opacity="0.82" stroke-width="1.7"/>
<rect x="572.83" y="450.2" width="4.5" height="2.3" fill="#f23645"/>
<path d="M581.47 443.9V452.5" stroke="#089981" stroke-opacity="0.85" stroke-width="1.65"/>
<rect x="579.22" y="445.3" width="4.5" height="6.8" fill="#089981"/>
<rect x="580.12" y="446.2" width="2.7" height="5.0" fill="#2962ff"/>
<path d="M587.85 405.2V449.2" stroke="#089981" stroke-opacity="0.85" stroke-width="1.65"/>
<rect x="585.60" y="429.1" width="4.5" height="17.2" fill="#089981"/>
<rect x="586.50" y="430.0" width="2.7" height="15.4" fill="#2962ff"/>
<path d="M594.24 424.4V451.7" stroke="#f23645" stroke-opacity="0.82" stroke-width="1.7"/>
<rect x="591.99" y="429.1" width="4.5" height="18.8" fill="#f23645"/>
<path d="M600.62 442.3V457.0" stroke="#089981" stroke-opacity="0.85" stroke-width="1.65"/>
<rect x="598.37" y="445.3" width="4.5" height="2.5" fill="#089981"/>
<rect x="599.27" y="446.2" width="2.7" height="0.7" fill="#2962ff"/>
<path d="M607.00 441.4V450.5" stroke="#f23645" stroke-opacity="0.82" stroke-width="1.7"/>
<rect x="604.75" y="445.3" width="4.5" height="1.6" fill="#f23645"/>
<path d="M613.39 442.7V464.4" stroke="#f23645" stroke-opacity="0.82" stroke-width="1.7"/>
<rect x="611.14" y="446.2" width="4.5" height="10.7" fill="#f23645"/>
<path d="M619.77 442.7V485.3" stroke="#f23645" stroke-opacity="0.82" stroke-width="1.7"/>
<rect x="617.52" y="457.0" width="4.5" height="13.1" fill="#f23645"/>
<path d="M626.16 464.2V506.4" stroke="#f23645" stroke-opacity="0.82" stroke-width="1.7"/>
<rect x="623.91" y="470.1" width="4.5" height="11.3" fill="#f23645"/>
<path d="M632.55 444.3V495.1" stroke="#089981" stroke-opacity="0.85" stroke-width="1.65"/>
<rect x="630.30" y="448.2" width="4.5" height="33.2" fill="#089981"/>
<rect x="631.20" y="449.1" width="2.7" height="31.4" fill="#2962ff"/>
<path d="M638.93 433.6V453.7" stroke="#089981" stroke-opacity="0.85" stroke-width="1.65"/>
<rect x="636.68" y="440.4" width="4.5" height="7.8" fill="#089981"/>
<rect x="637.58" y="441.3" width="2.7" height="6.0" fill="#2962ff"/>
<path d="M645.32 430.2V444.3" stroke="#f23645" stroke-opacity="0.82" stroke-width="1.7"/>
<rect x="643.07" y="439.3" width="4.5" height="1.6" fill="#f23645"/>
<path d="M651.70 435.5V462.3" stroke="#f23645" stroke-opacity="0.82" stroke-width="1.7"/>
<rect x="649.45" y="441.4" width="4.5" height="19.5" fill="#f23645"/>
<path d="M658.09 447.8V469.1" stroke="#089981" stroke-opacity="0.85" stroke-width="1.65"/>
<rect x="655.84" y="452.1" width="4.5" height="8.8" fill="#089981"/>
<rect x="656.74" y="453.0" width="2.7" height="7.0" fill="#2962ff"/>
<path d="M664.47 435.5V454.6" stroke="#089981" stroke-opacity="0.85" stroke-width="1.65"/>
<rect x="662.22" y="441.4" width="4.5" height="10.7" fill="#089981"/>
<rect x="663.12" y="442.3" width="2.7" height="8.9" fill="#2962ff"/>
<path d="M670.86 433.6V443.3" stroke="#089981" stroke-opacity="0.85" stroke-width="1.65"/>
<rect x="668.61" y="436.5" width="4.5" height="4.9" fill="#089981"/>
<rect x="669.50" y="437.4" width="2.7" height="3.1" fill="#2962ff"/>
<path d="M677.24 407.2V446.2" stroke="#089981" stroke-opacity="0.85" stroke-width="1.65"/>
<rect x="674.99" y="429.6" width="4.5" height="6.8" fill="#089981"/>
<rect x="675.89" y="430.5" width="2.7" height="5.0" fill="#2962ff"/>
<path d="M683.62 425.7V450.5" stroke="#f23645" stroke-opacity="0.82" stroke-width="1.7"/>
<rect x="681.38" y="429.6" width="4.5" height="15.2" fill="#f23645"/>
<path d="M690.01 416.6V447.8" stroke="#089981" stroke-opacity="0.85" stroke-width="1.65"/>
<rect x="687.76" y="430.0" width="4.5" height="14.8" fill="#089981"/>
<rect x="688.66" y="430.9" width="2.7" height="13.0" fill="#2962ff"/>
<path d="M696.39 411.1V431.6" stroke="#089981" stroke-opacity="0.85" stroke-width="1.65"/>
<rect x="694.14" y="424.4" width="4.5" height="5.7" fill="#089981"/>
<rect x="695.04" y="425.3" width="2.7" height="3.9" fill="#2962ff"/>
<path d="M702.78 421.8V438.4" stroke="#f23645" stroke-opacity="0.82" stroke-width="1.7"/>
<rect x="700.53" y="424.0" width="4.5" height="9.0" fill="#f23645"/>
<path d="M709.17 429.3V436.9" stroke="#f23645" stroke-opacity="0.82" stroke-width="1.7"/>
<rect x="706.92" y="432.2" width="4.5" height="1.8" fill="#f23645"/>
<path d="M715.55 417.0V434.9" stroke="#089981" stroke-opacity="0.85" stroke-width="1.65"/>
<rect x="713.30" y="421.4" width="4.5" height="13.1" fill="#089981"/>
<rect x="714.20" y="422.3" width="2.7" height="11.3" fill="#2962ff"/>
<path d="M721.94 400.9V424.8" stroke="#f23645" stroke-opacity="0.82" stroke-width="1.7"/>
<rect x="719.69" y="420.4" width="4.5" height="1.6" fill="#f23645"/>
<path d="M728.32 409.1V426.1" stroke="#089981" stroke-opacity="0.85" stroke-width="1.65"/>
<rect x="726.07" y="412.1" width="4.5" height="9.2" fill="#089981"/>
<rect x="726.97" y="413.0" width="2.7" height="7.4" fill="#2962ff"/>
<path d="M734.71 384.1V415.0" stroke="#089981" stroke-opacity="0.85" stroke-width="1.65"/>
<rect x="732.46" y="390.2" width="4.5" height="21.9" fill="#089981"/>
<rect x="733.36" y="391.1" width="2.7" height="20.1" fill="#2962ff"/>
<path d="M741.09 350.2V391.6" stroke="#089981" stroke-opacity="0.85" stroke-width="1.65"/>
<rect x="738.84" y="356.0" width="4.5" height="34.2" fill="#089981"/>
<rect x="739.74" y="356.9" width="2.7" height="32.4" fill="#2962ff"/>
<path d="M747.48 253.8V363.9" stroke="#089981" stroke-opacity="0.85" stroke-width="1.65"/>
<rect x="745.23" y="312.5" width="4.5" height="43.4" fill="#089981"/>
<rect x="746.12" y="313.4" width="2.7" height="41.6" fill="#2962ff"/>
<path d="M753.86 284.0V328.2" stroke="#089981" stroke-opacity="0.85" stroke-width="1.65"/>
<rect x="751.61" y="309.9" width="4.5" height="2.2" fill="#089981"/>
<path d="M760.25 273.2V313.1" stroke="#089981" stroke-opacity="0.85" stroke-width="1.65"/>
<rect x="758.00" y="287.2" width="4.5" height="23.3" fill="#089981"/>
<rect x="758.89" y="288.1" width="2.7" height="21.5" fill="#2962ff"/>
<path d="M766.63 240.2V290.5" stroke="#089981" stroke-opacity="0.85" stroke-width="1.65"/>
<rect x="764.38" y="258.1" width="4.5" height="29.1" fill="#089981"/>
<rect x="765.28" y="259.0" width="2.7" height="27.3" fill="#2962ff"/>
<path d="M773.01 257.4V295.2" stroke="#f23645" stroke-opacity="0.82" stroke-width="1.7"/>
<rect x="770.76" y="258.1" width="4.5" height="9.7" fill="#f23645"/>
<path d="M779.40 224.2V277.5" stroke="#089981" stroke-opacity="0.85" stroke-width="1.65"/>
<rect x="777.15" y="239.3" width="4.5" height="28.5" fill="#089981"/>
<rect x="778.05" y="240.2" width="2.7" height="26.7" fill="#2962ff"/>
<path d="M785.78 117.1V251.6" stroke="#089981" stroke-opacity="0.85" stroke-width="1.65"/>
<rect x="783.53" y="134.0" width="4.5" height="105.3" fill="#089981"/>
<rect x="784.43" y="134.9" width="2.7" height="103.5" fill="#2962ff"/>
<path d="M792.17 90.4V166.3" stroke="#f23645" stroke-opacity="0.82" stroke-width="1.7"/>
<rect x="789.92" y="134.0" width="4.5" height="15.5" fill="#f23645"/>
<path d="M798.56 132.9V163.8" stroke="#089981" stroke-opacity="0.85" stroke-width="1.65"/>
<rect x="796.31" y="147.6" width="4.5" height="2.6" fill="#089981"/>
<rect x="797.21" y="148.5" width="2.7" height="0.8" fill="#2962ff"/>
<path d="M804.94 115.6V156.0" stroke="#089981" stroke-opacity="0.85" stroke-width="1.65"/>
<rect x="802.69" y="140.9" width="4.5" height="6.7" fill="#089981"/>
<rect x="803.59" y="141.8" width="2.7" height="4.9" fill="#2962ff"/>
<path d="M811.33 93.4V150.8" stroke="#089981" stroke-opacity="0.85" stroke-width="1.65"/>
<rect x="809.08" y="117.8" width="4.5" height="23.1" fill="#089981"/>
<rect x="809.98" y="118.7" width="2.7" height="21.3" fill="#2962ff"/>
<path d="M817.71 110.2V148.0" stroke="#089981" stroke-opacity="0.85" stroke-width="1.65"/>
<rect x="815.46" y="116.8" width="4.5" height="1.6" fill="#089981"/>
<path d="M824.10 117.1V236.9" stroke="#f23645" stroke-opacity="0.82" stroke-width="1.7"/>
<rect x="821.85" y="117.8" width="4.5" height="86.8" fill="#f23645"/>
<path d="M830.48 184.3V258.1" stroke="#f23645" stroke-opacity="0.82" stroke-width="1.7"/>
<rect x="828.23" y="204.6" width="4.5" height="9.3" fill="#f23645"/>
<path d="M836.87 209.5V247.9" stroke="#f23645" stroke-opacity="0.82" stroke-width="1.7"/>
<rect x="834.62" y="212.5" width="4.5" height="1.6" fill="#f23645"/>
<path d="M843.25 195.9V222.9" stroke="#089981" stroke-opacity="0.85" stroke-width="1.65"/>
<rect x="841.00" y="209.1" width="4.5" height="5.4" fill="#089981"/>
<rect x="841.90" y="210.0" width="2.7" height="3.6" fill="#2962ff"/>
<path d="M849.63 188.4V210.6" stroke="#089981" stroke-opacity="0.85" stroke-width="1.65"/>
<rect x="847.38" y="191.6" width="4.5" height="17.5" fill="#089981"/>
<rect x="848.28" y="192.5" width="2.7" height="15.7" fill="#2962ff"/>
<path d="M856.02 169.6V222.5" stroke="#f23645" stroke-opacity="0.82" stroke-width="1.7"/>
<rect x="853.77" y="191.6" width="4.5" height="27.6" fill="#f23645"/>
<path d="M862.40 204.1V235.9" stroke="#089981" stroke-opacity="0.85" stroke-width="1.65"/>
<rect x="860.15" y="216.8" width="4.5" height="1.6" fill="#089981"/>
<path d="M868.79 209.5V247.9" stroke="#f23645" stroke-opacity="0.82" stroke-width="1.7"/>
<rect x="866.54" y="217.7" width="4.5" height="8.4" fill="#f23645"/>
<path d="M875.18 205.8V245.8" stroke="#f23645" stroke-opacity="0.82" stroke-width="1.7"/>
<rect x="872.93" y="225.7" width="4.5" height="17.7" fill="#f23645"/>
<path d="M881.56 234.3V274.3" stroke="#f23645" stroke-opacity="0.82" stroke-width="1.7"/>
<rect x="879.31" y="243.4" width="4.5" height="15.1" fill="#f23645"/>
<path d="M887.95 244.1V310.5" stroke="#f23645" stroke-opacity="0.82" stroke-width="1.7"/>
<rect x="885.70" y="258.1" width="4.5" height="45.3" fill="#f23645"/>
<path d="M894.33 257.4V313.1" stroke="#089981" stroke-opacity="0.85" stroke-width="1.65"/>
<rect x="892.08" y="260.9" width="4.5" height="42.5" fill="#089981"/>
<rect x="892.98" y="261.8" width="2.7" height="40.7" fill="#2962ff"/>
<path d="M900.72 227.4V264.6" stroke="#089981" stroke-opacity="0.85" stroke-width="1.65"/>
<rect x="898.47" y="231.8" width="4.5" height="29.1" fill="#089981"/>
<rect x="899.37" y="232.7" width="2.7" height="27.3" fill="#2962ff"/>
<path d="M907.10 223.1V272.1" stroke="#f23645" stroke-opacity="0.82" stroke-width="1.7"/>
<rect x="904.85" y="231.8" width="4.5" height="25.9" fill="#f23645"/>
<path d="M913.49 243.6V271.7" stroke="#089981" stroke-opacity="0.85" stroke-width="1.65"/>
<rect x="911.24" y="251.0" width="4.5" height="6.7" fill="#089981"/>
<rect x="912.13" y="251.9" width="2.7" height="4.9" fill="#2962ff"/>
<path d="M919.87 168.9V257.0" stroke="#089981" stroke-opacity="0.85" stroke-width="1.65"/>
<rect x="917.62" y="172.4" width="4.5" height="78.6" fill="#089981"/>
<rect x="918.52" y="173.3" width="2.7" height="76.8" fill="#2962ff"/>
<path d="M926.25 157.3V201.3" stroke="#f23645" stroke-opacity="0.82" stroke-width="1.7"/>
<rect x="924.00" y="172.4" width="4.5" height="8.4" fill="#f23645"/>
<path d="M932.64 165.7V198.7" stroke="#f23645" stroke-opacity="0.82" stroke-width="1.7"/>
<rect x="930.39" y="180.8" width="4.5" height="14.7" fill="#f23645"/>
<path d="M939.02 182.1V211.7" stroke="#f23645" stroke-opacity="0.82" stroke-width="1.7"/>
<rect x="936.77" y="195.5" width="4.5" height="9.1" fill="#f23645"/>
<path d="M945.41 169.6V220.7" stroke="#f23645" stroke-opacity="0.82" stroke-width="1.7"/>
<rect x="943.16" y="204.6" width="4.5" height="13.6" fill="#f23645"/>
<path d="M951.79 175.0V223.6" stroke="#089981" stroke-opacity="0.85" stroke-width="1.65"/>
<rect x="949.54" y="185.3" width="4.5" height="32.8" fill="#089981"/>
<rect x="950.44" y="186.2" width="2.7" height="31.0" fill="#2962ff"/>
<path d="M958.18 168.9V200.5" stroke="#089981" stroke-opacity="0.85" stroke-width="1.65"/>
<rect x="955.93" y="183.0" width="4.5" height="2.4" fill="#089981"/>
<rect x="956.83" y="183.9" width="2.7" height="0.6" fill="#2962ff"/>
<path d="M964.57 164.8V247.9" stroke="#f23645" stroke-opacity="0.82" stroke-width="1.7"/>
<rect x="962.32" y="183.0" width="4.5" height="46.4" fill="#f23645"/>
<path d="M970.95 213.8V247.9" stroke="#f23645" stroke-opacity="0.82" stroke-width="1.7"/>
<rect x="968.70" y="228.5" width="4.5" height="1.6" fill="#f23645"/>
<path d="M977.34 210.6V231.1" stroke="#089981" stroke-opacity="0.85" stroke-width="1.65"/>
<rect x="975.09" y="222.9" width="4.5" height="6.7" fill="#089981"/>
<rect x="975.99" y="223.8" width="2.7" height="4.9" fill="#2962ff"/>
<path d="M983.72 212.3V230.0" stroke="#f23645" stroke-opacity="0.82" stroke-width="1.7"/>
<rect x="981.47" y="222.9" width="4.5" height="4.5" fill="#f23645"/>
<path d="M990.11 225.7V261.3" stroke="#f23645" stroke-opacity="0.82" stroke-width="1.7"/>
<rect x="987.86" y="227.2" width="4.5" height="6.7" fill="#f23645"/>
<path d="M996.49 228.5V284.0" stroke="#f23645" stroke-opacity="0.82" stroke-width="1.7"/>
<rect x="994.24" y="233.9" width="4.5" height="48.4" fill="#f23645"/>
<path d="M1002.88 250.5V293.3" stroke="#089981" stroke-opacity="0.85" stroke-width="1.65"/>
<rect x="1000.62" y="260.9" width="4.5" height="21.4" fill="#089981"/>
<rect x="1001.52" y="261.8" width="2.7" height="19.6" fill="#2962ff"/>
<path d="M1009.26 258.1V286.2" stroke="#f23645" stroke-opacity="0.82" stroke-width="1.7"/>
<rect x="1007.01" y="260.9" width="4.5" height="23.1" fill="#f23645"/>
<path d="M1015.64 223.6V300.2" stroke="#089981" stroke-opacity="0.85" stroke-width="1.65"/>
<rect x="1013.39" y="231.8" width="4.5" height="52.2" fill="#089981"/>
<rect x="1014.29" y="232.7" width="2.7" height="50.4" fill="#2962ff"/>
<path d="M1022.03 230.0V251.2" stroke="#f23645" stroke-opacity="0.82" stroke-width="1.7"/>
<rect x="1019.78" y="231.1" width="4.5" height="6.5" fill="#f23645"/>
<path d="M1028.41 218.2V251.2" stroke="#f23645" stroke-opacity="0.82" stroke-width="1.7"/>
<rect x="1026.16" y="237.6" width="4.5" height="5.4" fill="#f23645"/>
<path d="M1034.80 235.9V290.5" stroke="#f23645" stroke-opacity="0.82" stroke-width="1.7"/>
<rect x="1032.55" y="243.0" width="4.5" height="39.3" fill="#f23645"/>
<path d="M1041.18 228.5V284.6" stroke="#089981" stroke-opacity="0.85" stroke-width="1.65"/>
<rect x="1038.93" y="245.6" width="4.5" height="36.7" fill="#089981"/>
<rect x="1039.84" y="246.5" width="2.7" height="34.9" fill="#2962ff"/>
<path d="M1047.57 237.2V257.0" stroke="#f23645" stroke-opacity="0.82" stroke-width="1.7"/>
<rect x="1045.32" y="245.6" width="4.5" height="10.4" fill="#f23645"/>
<path d="M1053.95 242.3V262.0" stroke="#f23645" stroke-opacity="0.82" stroke-width="1.7"/>
<rect x="1051.70" y="255.1" width="4.5" height="1.6" fill="#f23645"/>
<path d="M1060.34 253.3V302.3" stroke="#f23645" stroke-opacity="0.82" stroke-width="1.7"/>
<rect x="1058.09" y="256.4" width="4.5" height="35.2" fill="#f23645"/>
<path d="M1066.72 287.2V305.1" stroke="#f23645" stroke-opacity="0.82" stroke-width="1.7"/>
<rect x="1064.47" y="290.2" width="4.5" height="1.6" fill="#f23645"/>
<path d="M1073.11 279.0V303.4" stroke="#f23645" stroke-opacity="0.82" stroke-width="1.7"/>
<rect x="1070.86" y="291.1" width="4.5" height="10.8" fill="#f23645"/>
<path d="M1079.50 286.2V319.6" stroke="#f23645" stroke-opacity="0.82" stroke-width="1.7"/>
<rect x="1077.25" y="301.9" width="4.5" height="4.1" fill="#f23645"/>
<path d="M1085.88 279.7V307.7" stroke="#089981" stroke-opacity="0.85" stroke-width="1.65"/>
<rect x="1083.63" y="281.2" width="4.5" height="24.8" fill="#089981"/>
<rect x="1084.53" y="282.1" width="2.7" height="23.0" fill="#2962ff"/>
<path d="M1092.27 274.9V292.6" stroke="#f23645" stroke-opacity="0.82" stroke-width="1.7"/>
<rect x="1090.02" y="281.2" width="4.5" height="3.9" fill="#f23645"/>
<path d="M1098.65 281.2V298.7" stroke="#f23645" stroke-opacity="0.82" stroke-width="1.7"/>
<rect x="1096.40" y="285.1" width="4.5" height="12.5" fill="#f23645"/>
<path d="M1105.04 276.0V300.6" stroke="#089981" stroke-opacity="0.85" stroke-width="1.65"/>
<rect x="1102.79" y="292.6" width="4.5" height="4.7" fill="#089981"/>
<rect x="1103.69" y="293.5" width="2.7" height="2.9" fill="#2962ff"/>
<path d="M1111.42 289.0V297.6" stroke="#f23645" stroke-opacity="0.82" stroke-width="1.7"/>
<rect x="1109.17" y="292.4" width="4.5" height="1.6" fill="#f23645"/>
<path d="M1117.81 265.6V294.3" stroke="#089981" stroke-opacity="0.85" stroke-width="1.65"/>
<rect x="1115.56" y="277.4" width="4.5" height="16.2" fill="#089981"/>
<rect x="1116.46" y="278.3" width="2.7" height="14.4" fill="#2962ff"/>
<path d="M1124.19 249.4V280.7" stroke="#089981" stroke-opacity="0.85" stroke-width="1.65"/>
<rect x="1121.94" y="256.3" width="4.5" height="21.2" fill="#089981"/>
<rect x="1122.84" y="257.2" width="2.7" height="19.4" fill="#2962ff"/>
<path d="M1130.58 240.1V263.4" stroke="#f23645" stroke-opacity="0.82" stroke-width="1.7"/>
<rect x="1128.33" y="256.3" width="4.5" height="4.5" fill="#f23645"/>
<path d="M1136.96 242.5V263.4" stroke="#089981" stroke-opacity="0.85" stroke-width="1.65"/>
<rect x="1134.71" y="252.6" width="4.5" height="8.2" fill="#089981"/>
<rect x="1135.61" y="253.5" width="2.7" height="6.4" fill="#2962ff"/>
<path d="M1143.35 236.4V259.7" stroke="#089981" stroke-opacity="0.85" stroke-width="1.65"/>
<rect x="1141.10" y="239.2" width="4.5" height="13.4" fill="#089981"/>
<rect x="1142.00" y="240.1" width="2.7" height="11.6" fill="#2962ff"/>
<path d="M1149.73 215.9V244.0" stroke="#089981" stroke-opacity="0.85" stroke-width="1.65"/>
<rect x="1147.48" y="223.0" width="4.5" height="16.2" fill="#089981"/>
<rect x="1148.38" y="223.9" width="2.7" height="14.4" fill="#2962ff"/>
<path d="M1156.12 204.0V226.7" stroke="#089981" stroke-opacity="0.85" stroke-width="1.65"/>
<rect x="1153.87" y="220.2" width="4.5" height="3.2" fill="#089981"/>
<rect x="1154.77" y="221.1" width="2.7" height="1.4" fill="#2962ff"/>
<path d="M1162.50 218.5V245.5" stroke="#f23645" stroke-opacity="0.82" stroke-width="1.7"/>
<rect x="1160.25" y="219.6" width="4.5" height="22.2" fill="#f23645"/>
<path d="M1168.88 232.5V259.1" stroke="#f23645" stroke-opacity="0.82" stroke-width="1.7"/>
<rect x="1166.63" y="241.4" width="4.5" height="7.3" fill="#f23645"/>
<path d="M1175.27 234.3V256.5" stroke="#089981" stroke-opacity="0.85" stroke-width="1.65"/>
<rect x="1173.02" y="240.1" width="4.5" height="8.6" fill="#089981"/>
<rect x="1173.92" y="241.0" width="2.7" height="6.8" fill="#2962ff"/>
<path d="M1181.65 222.4V252.6" stroke="#089981" stroke-opacity="0.85" stroke-width="1.65"/>
<rect x="1179.40" y="228.4" width="4.5" height="11.7" fill="#089981"/>
<rect x="1180.31" y="229.3" width="2.7" height="9.9" fill="#2962ff"/>
<path d="M1188.04 215.3V234.3" stroke="#f23645" stroke-opacity="0.82" stroke-width="1.7"/>
<rect x="1185.79" y="228.4" width="4.5" height="2.6" fill="#f23645"/>
<path d="M1194.42 225.6V252.6" stroke="#f23645" stroke-opacity="0.82" stroke-width="1.7"/>
<rect x="1192.17" y="231.0" width="4.5" height="19.9" fill="#f23645"/>
<path d="M1200.81 246.1V255.8" stroke="#f23645" stroke-opacity="0.82" stroke-width="1.7"/>
<rect x="1198.56" y="250.9" width="4.5" height="3.5" fill="#f23645"/>
<path d="M1207.19 245.0V257.4" stroke="#f23645" stroke-opacity="0.82" stroke-width="1.7"/>
<rect x="1204.94" y="253.9" width="4.5" height="1.6" fill="#f23645"/>
<path d="M1213.58 253.7V321.7" stroke="#f23645" stroke-opacity="0.82" stroke-width="1.7"/>
<rect x="1211.33" y="254.8" width="4.5" height="28.1" fill="#f23645"/>
<path d="M1219.96 272.5V294.7" stroke="#f23645" stroke-opacity="0.82" stroke-width="1.7"/>
<rect x="1217.71" y="282.8" width="4.5" height="7.6" fill="#f23645"/>
<path d="M1226.35 249.4V297.3" stroke="#089981" stroke-opacity="0.85" stroke-width="1.65"/>
<rect x="1224.10" y="266.0" width="4.5" height="24.4" fill="#089981"/>
<rect x="1225.00" y="266.9" width="2.7" height="22.6" fill="#2962ff"/>
<path d="M1232.73 262.3V313.5" stroke="#f23645" stroke-opacity="0.82" stroke-width="1.7"/>
<rect x="1230.48" y="266.0" width="4.5" height="43.2" fill="#f23645"/>
<path d="M1239.12 293.2V319.1" stroke="#089981" stroke-opacity="0.85" stroke-width="1.65"/>
<rect x="1236.87" y="300.1" width="4.5" height="9.1" fill="#089981"/>
<rect x="1237.77" y="301.0" width="2.7" height="7.3" fill="#2962ff"/>
<path d="M1245.51 289.3V303.8" stroke="#089981" stroke-opacity="0.85" stroke-width="1.65"/>
<rect x="1243.26" y="295.1" width="4.5" height="5.0" fill="#089981"/>
<rect x="1244.16" y="296.0" width="2.7" height="3.2" fill="#2962ff"/>
<path d="M1251.89 278.9V303.3" stroke="#089981" stroke-opacity="0.85" stroke-width="1.65"/>
<rect x="1249.64" y="280.0" width="4.5" height="15.1" fill="#089981"/>
<rect x="1250.54" y="280.9" width="2.7" height="13.3" fill="#2962ff"/>
<path d="M1258.28 265.1V284.3" stroke="#089981" stroke-opacity="0.85" stroke-width="1.65"/>
<rect x="1256.03" y="277.4" width="4.5" height="2.6" fill="#089981"/>
<rect x="1256.93" y="278.3" width="2.7" height="0.8" fill="#2962ff"/>
<path d="M1264.66 270.3V291.9" stroke="#f23645" stroke-opacity="0.82" stroke-width="1.7"/>
<rect x="1262.41" y="277.0" width="4.5" height="8.0" fill="#f23645"/>
<path d="M1271.05 257.4V291.5" stroke="#089981" stroke-opacity="0.85" stroke-width="1.65"/>
<rect x="1268.80" y="260.2" width="4.5" height="24.8" fill="#089981"/>
<rect x="1269.70" y="261.1" width="2.7" height="23.0" fill="#2962ff"/>
<path d="M1277.43 224.1V261.9" stroke="#089981" stroke-opacity="0.85" stroke-width="1.65"/>
<rect x="1275.18" y="239.2" width="4.5" height="20.9" fill="#089981"/>
<rect x="1276.08" y="240.1" width="2.7" height="19.1" fill="#2962ff"/>
<path d="M1283.82 225.0V246.6" stroke="#089981" stroke-opacity="0.85" stroke-width="1.65"/>
<rect x="1281.57" y="237.8" width="4.5" height="1.6" fill="#089981"/>
<path d="M1290.20 235.8V261.9" stroke="#f23645" stroke-opacity="0.82" stroke-width="1.7"/>
<rect x="1287.95" y="238.6" width="4.5" height="17.3" fill="#f23645"/>
<path d="M1296.59 231.0V260.2" stroke="#089981" stroke-opacity="0.85" stroke-width="1.65"/>
<rect x="1294.34" y="254.6" width="4.5" height="1.6" fill="#089981"/>
<path d="M1302.97 236.4V258.0" stroke="#089981" stroke-opacity="0.85" stroke-width="1.65"/>
<rect x="1300.72" y="251.5" width="4.5" height="3.9" fill="#089981"/>
<rect x="1301.62" y="252.4" width="2.7" height="2.1" fill="#2962ff"/>
<path d="M1309.36 247.9V283.9" stroke="#f23645" stroke-opacity="0.82" stroke-width="1.7"/>
<rect x="1307.11" y="251.5" width="4.5" height="31.7" fill="#f23645"/>
<path d="M1315.74 266.0V287.6" stroke="#089981" stroke-opacity="0.85" stroke-width="1.65"/>
<rect x="1313.49" y="277.0" width="4.5" height="6.3" fill="#089981"/>
<rect x="1314.39" y="277.9" width="2.7" height="4.5" fill="#2962ff"/>
<path d="M1322.12 276.3V301.8" stroke="#f23645" stroke-opacity="0.82" stroke-width="1.7"/>
<rect x="1319.88" y="277.0" width="4.5" height="18.8" fill="#f23645"/>
<path d="M1328.51 287.1V539.7" stroke="#f23645" stroke-opacity="0.82" stroke-width="1.7"/>
<rect x="1326.26" y="295.8" width="4.5" height="101.0" fill="#f23645"/>
<path d="M1334.89 365.3V413.0" stroke="#089981" stroke-opacity="0.85" stroke-width="1.65"/>
<rect x="1332.64" y="394.6" width="4.5" height="2.2" fill="#089981"/>
<path d="M1341.28 347.2V410.6" stroke="#089981" stroke-opacity="0.85" stroke-width="1.65"/>
<rect x="1339.03" y="359.9" width="4.5" height="34.8" fill="#089981"/>
<rect x="1339.93" y="360.8" width="2.7" height="33.0" fill="#2962ff"/>
<path d="M1347.66 332.0V362.7" stroke="#089981" stroke-opacity="0.85" stroke-width="1.65"/>
<rect x="1345.41" y="341.8" width="4.5" height="18.1" fill="#089981"/>
<rect x="1346.32" y="342.7" width="2.7" height="16.3" fill="#2962ff"/>
<path d="M1354.05 337.4V392.9" stroke="#f23645" stroke-opacity="0.82" stroke-width="1.7"/>
<rect x="1351.80" y="341.8" width="4.5" height="23.7" fill="#f23645"/>
<path d="M1360.43 355.1V395.1" stroke="#f23645" stroke-opacity="0.82" stroke-width="1.7"/>
<rect x="1358.18" y="365.5" width="4.5" height="22.0" fill="#f23645"/>
<path d="M1366.82 374.6V423.6" stroke="#f23645" stroke-opacity="0.82" stroke-width="1.7"/>
<rect x="1364.57" y="387.5" width="4.5" height="20.1" fill="#f23645"/>
<path d="M1373.20 390.8V440.6" stroke="#f23645" stroke-opacity="0.82" stroke-width="1.7"/>
<rect x="1370.95" y="407.6" width="4.5" height="8.0" fill="#f23645"/>
<path d="M1379.59 392.9V416.7" stroke="#089981" stroke-opacity="0.85" stroke-width="1.65"/>
<rect x="1377.34" y="400.5" width="4.5" height="15.1" fill="#089981"/>
<rect x="1378.24" y="401.4" width="2.7" height="13.3" fill="#2962ff"/>
<path d="M1385.97 386.0V409.1" stroke="#089981" stroke-opacity="0.85" stroke-width="1.65"/>
<rect x="1383.72" y="392.9" width="4.5" height="7.6" fill="#089981"/>
<rect x="1384.62" y="393.8" width="2.7" height="5.8" fill="#2962ff"/>
<path d="M1392.36 354.5V400.5" stroke="#089981" stroke-opacity="0.85" stroke-width="1.65"/>
<rect x="1390.11" y="368.1" width="4.5" height="24.8" fill="#089981"/>
<rect x="1391.01" y="369.0" width="2.7" height="23.0" fill="#2962ff"/>
<path d="M1398.74 358.8V389.7" stroke="#f23645" stroke-opacity="0.82" stroke-width="1.7"/>
<rect x="1396.49" y="368.1" width="4.5" height="17.3" fill="#f23645"/>
<path d="M1405.13 381.0V408.5" stroke="#f23645" stroke-opacity="0.82" stroke-width="1.7"/>
<rect x="1402.88" y="385.4" width="4.5" height="13.6" fill="#f23645"/>
<path d="M1411.52 384.3V399.4" stroke="#089981" stroke-opacity="0.85" stroke-width="1.65"/>
<rect x="1409.27" y="391.8" width="4.5" height="7.1" fill="#089981"/>
<rect x="1410.17" y="392.7" width="2.7" height="5.3" fill="#2962ff"/>
<path d="M1417.90 363.8V393.3" stroke="#089981" stroke-opacity="0.85" stroke-width="1.65"/>
<rect x="1415.65" y="364.4" width="4.5" height="27.4" fill="#089981"/>
<rect x="1416.55" y="365.3" width="2.7" height="25.6" fill="#2962ff"/>
<path d="M1424.29 338.5V365.9" stroke="#089981" stroke-opacity="0.85" stroke-width="1.65"/>
<rect x="1422.04" y="343.7" width="4.5" height="20.7" fill="#089981"/>
<rect x="1422.94" y="344.6" width="2.7" height="18.9" fill="#2962ff"/>
<path d="M1430.67 328.2V344.3" stroke="#089981" stroke-opacity="0.85" stroke-width="1.65"/>
<rect x="1428.42" y="332.0" width="4.5" height="11.7" fill="#089981"/>
<rect x="1429.32" y="332.9" width="2.7" height="9.9" fill="#2962ff"/>
<path d="M1437.06 320.2V342.2" stroke="#f23645" stroke-opacity="0.82" stroke-width="1.7"/>
<rect x="1434.81" y="332.5" width="4.5" height="3.2" fill="#f23645"/>
<path d="M1443.44 322.1V350.2" stroke="#f23645" stroke-opacity="0.82" stroke-width="1.7"/>
<rect x="1441.19" y="335.7" width="4.5" height="6.5" fill="#f23645"/>
<path d="M1449.83 328.2V357.3" stroke="#f23645" stroke-opacity="0.82" stroke-width="1.7"/>
<rect x="1447.58" y="342.2" width="4.5" height="12.5" fill="#f23645"/>
<path d="M1456.21 345.0V395.5" stroke="#f23645" stroke-opacity="0.82" stroke-width="1.7"/>
<rect x="1453.96" y="354.7" width="4.5" height="26.3" fill="#f23645"/>
<path d="M1462.60 350.2V381.7" stroke="#089981" stroke-opacity="0.85" stroke-width="1.65"/>
<rect x="1460.35" y="364.9" width="4.5" height="16.2" fill="#089981"/>
<rect x="1461.25" y="365.8" width="2.7" height="14.4" fill="#2962ff"/>
<path d="M1468.98 361.0V372.0" stroke="#f23645" stroke-opacity="0.82" stroke-width="1.7"/>
<rect x="1466.73" y="363.5" width="4.5" height="1.6" fill="#f23645"/>
<path d="M1475.37 354.1V370.9" stroke="#089981" stroke-opacity="0.85" stroke-width="1.65"/>
<rect x="1473.12" y="360.5" width="4.5" height="4.7" fill="#089981"/>
<rect x="1474.02" y="361.4" width="2.7" height="2.9" fill="#2962ff"/>
<path d="M1481.75 355.2V423.7" stroke="#f23645" stroke-opacity="0.82" stroke-width="1.7"/>
<rect x="1479.50" y="360.4" width="4.5" height="51.8" fill="#f23645"/>
<path d="M1488.13 398.8V469.7" stroke="#f23645" stroke-opacity="0.82" stroke-width="1.7"/>
<rect x="1485.88" y="412.3" width="4.5" height="24.9" fill="#f23645"/>
<path d="M1494.52 396.3V461.4" stroke="#089981" stroke-opacity="0.85" stroke-width="1.65"/>
<rect x="1492.27" y="404.0" width="4.5" height="33.2" fill="#089981"/>
<rect x="1493.17" y="404.9" width="2.7" height="31.4" fill="#2962ff"/>
<path d="M1500.90 387.4V442.7" stroke="#f23645" stroke-opacity="0.82" stroke-width="1.7"/>
<rect x="1498.65" y="404.0" width="4.5" height="31.7" fill="#f23645"/>
<path d="M1507.29 397.7V451.0" stroke="#089981" stroke-opacity="0.85" stroke-width="1.65"/>
<rect x="1505.04" y="410.8" width="4.5" height="24.9" fill="#089981"/>
<rect x="1505.94" y="411.7" width="2.7" height="23.1" fill="#2962ff"/>
<path d="M1513.67 406.0V427.4" stroke="#f23645" stroke-opacity="0.82" stroke-width="1.7"/>
<rect x="1511.42" y="410.8" width="4.5" height="7.0" fill="#f23645"/>
<path d="M1520.06 392.6V428.2" stroke="#089981" stroke-opacity="0.85" stroke-width="1.65"/>
<rect x="1517.81" y="398.8" width="4.5" height="19.1" fill="#089981"/>
<rect x="1518.71" y="399.7" width="2.7" height="17.3" fill="#2962ff"/>
<path d="M1526.44 348.0V402.9" stroke="#089981" stroke-opacity="0.85" stroke-width="1.65"/>
<rect x="1524.19" y="361.5" width="4.5" height="37.3" fill="#089981"/>
<rect x="1525.10" y="362.4" width="2.7" height="35.5" fill="#2962ff"/>
<path d="M1532.83 351.1V395.7" stroke="#f23645" stroke-opacity="0.82" stroke-width="1.7"/>
<rect x="1530.58" y="361.5" width="4.5" height="31.5" fill="#f23645"/>
<path d="M1539.21 379.1V409.6" stroke="#f23645" stroke-opacity="0.82" stroke-width="1.7"/>
<rect x="1536.96" y="391.9" width="4.5" height="1.6" fill="#f23645"/>
<path d="M1545.60 361.5V419.5" stroke="#f23645" stroke-opacity="0.82" stroke-width="1.7"/>
<rect x="1543.35" y="393.6" width="4.5" height="16.0" fill="#f23645"/>
<path d="M1551.98 405.4V432.4" stroke="#f23645" stroke-opacity="0.82" stroke-width="1.7"/>
<rect x="1549.73" y="409.6" width="4.5" height="18.7" fill="#f23645"/>
<path d="M1558.37 414.3V435.1" stroke="#f23645" stroke-opacity="0.82" stroke-width="1.7"/>
<rect x="1556.12" y="427.6" width="4.5" height="1.6" fill="#f23645"/>
<path d="M1564.75 419.9V448.5" stroke="#f23645" stroke-opacity="0.82" stroke-width="1.7"/>
<rect x="1562.50" y="429.2" width="4.5" height="5.8" fill="#f23645"/>
<path d="M1571.14 413.7V458.9" stroke="#f23645" stroke-opacity="0.82" stroke-width="1.7"/>
<rect x="1568.89" y="435.1" width="4.5" height="12.4" fill="#f23645"/>
<path d="M1577.53 428.8V460.6" stroke="#089981" stroke-opacity="0.85" stroke-width="1.65"/>
<rect x="1575.28" y="434.4" width="4.5" height="13.1" fill="#089981"/>
<rect x="1576.18" y="435.3" width="2.7" height="11.3" fill="#2962ff"/>
<path d="M1583.91 434.0V479.2" stroke="#f23645" stroke-opacity="0.82" stroke-width="1.7"/>
<rect x="1581.66" y="434.4" width="4.5" height="25.5" fill="#f23645"/>
<path d="M1590.30 450.6V491.6" stroke="#f23645" stroke-opacity="0.82" stroke-width="1.7"/>
<rect x="1588.05" y="459.9" width="4.5" height="26.9" fill="#f23645"/>
<path d="M1596.68 478.6V528.3" stroke="#f23645" stroke-opacity="0.82" stroke-width="1.7"/>
<rect x="1594.43" y="485.8" width="4.5" height="12.0" fill="#f23645"/>
<path d="M1603.07 493.7V511.8" stroke="#089981" stroke-opacity="0.85" stroke-width="1.65"/>
<rect x="1600.82" y="496.5" width="4.5" height="1.6" fill="#089981"/>
<path d="M1609.45 466.2V498.3" stroke="#089981" stroke-opacity="0.85" stroke-width="1.65"/>
<rect x="1607.20" y="474.4" width="4.5" height="23.2" fill="#089981"/>
<rect x="1608.10" y="475.3" width="2.7" height="21.4" fill="#2962ff"/>
<path d="M1615.84 417.4V479.2" stroke="#089981" stroke-opacity="0.85" stroke-width="1.65"/>
<rect x="1613.59" y="431.9" width="4.5" height="42.5" fill="#089981"/>
<rect x="1614.49" y="432.8" width="2.7" height="40.7" fill="#2962ff"/>
<path d="M1622.22 422.2V450.6" stroke="#f23645" stroke-opacity="0.82" stroke-width="1.7"/>
<rect x="1619.97" y="431.9" width="4.5" height="6.2" fill="#f23645"/>
<path d="M1628.61 425.7V450.6" stroke="#089981" stroke-opacity="0.85" stroke-width="1.65"/>
<rect x="1626.36" y="433.0" width="4.5" height="5.2" fill="#089981"/>
<rect x="1627.26" y="433.9" width="2.7" height="3.4" fill="#2962ff"/>
<path d="M1634.99 430.5V444.4" stroke="#f23645" stroke-opacity="0.82" stroke-width="1.7"/>
<rect x="1632.74" y="433.0" width="4.5" height="5.2" fill="#f23645"/>
<path d="M1641.38 420.1V447.5" stroke="#f23645" stroke-opacity="0.82" stroke-width="1.7"/>
<rect x="1639.12" y="438.2" width="4.5" height="5.2" fill="#f23645"/>
<path d="M1647.76 433.0V445.4" stroke="#089981" stroke-opacity="0.85" stroke-width="1.65"/>
<rect x="1645.51" y="438.2" width="4.5" height="5.6" fill="#089981"/>
<rect x="1646.41" y="439.1" width="2.7" height="3.8" fill="#2962ff"/>
<path d="M1654.14 434.0V449.6" stroke="#f23645" stroke-opacity="0.82" stroke-width="1.7"/>
<rect x="1651.89" y="438.2" width="4.5" height="10.8" fill="#f23645"/>
<path d="M1660.53 447.5V489.0" stroke="#f23645" stroke-opacity="0.82" stroke-width="1.7"/>
<rect x="1658.28" y="448.9" width="4.5" height="30.3" fill="#f23645"/>
<path d="M1666.91 442.3V486.5" stroke="#089981" stroke-opacity="0.85" stroke-width="1.65"/>
<rect x="1664.66" y="448.9" width="4.5" height="30.3" fill="#089981"/>
<rect x="1665.57" y="449.8" width="2.7" height="28.5" fill="#2962ff"/>
<path d="M1673.30 433.6V451.2" stroke="#089981" stroke-opacity="0.85" stroke-width="1.65"/>
<rect x="1671.05" y="438.2" width="4.5" height="10.8" fill="#089981"/>
<rect x="1671.95" y="439.1" width="2.7" height="9.0" fill="#2962ff"/>
<path d="M1679.68 435.1V468.6" stroke="#f23645" stroke-opacity="0.82" stroke-width="1.7"/>
<rect x="1677.43" y="438.2" width="4.5" height="24.5" fill="#f23645"/>
<path d="M1686.07 458.5V481.7" stroke="#f23645" stroke-opacity="0.82" stroke-width="1.7"/>
<rect x="1683.82" y="462.6" width="4.5" height="14.5" fill="#f23645"/>
<path d="M1692.45 473.8V481.1" stroke="#f23645" stroke-opacity="0.82" stroke-width="1.7"/>
<rect x="1690.20" y="476.6" width="4.5" height="1.6" fill="#f23645"/>
<path d="M1698.84 459.5V487.5" stroke="#089981" stroke-opacity="0.85" stroke-width="1.65"/>
<rect x="1696.59" y="475.5" width="4.5" height="3.1" fill="#089981"/>
<rect x="1697.49" y="476.4" width="2.7" height="1.3" fill="#2962ff"/>
<path d="M1705.22 456.4V478.0" stroke="#089981" stroke-opacity="0.85" stroke-width="1.65"/>
<rect x="1702.97" y="468.2" width="4.5" height="7.3" fill="#089981"/>
<rect x="1703.88" y="469.1" width="2.7" height="5.5" fill="#2962ff"/>
<path d="M1711.61 443.3V475.1" stroke="#089981" stroke-opacity="0.85" stroke-width="1.65"/>
<rect x="1709.36" y="460.3" width="4.5" height="7.9" fill="#089981"/>
<rect x="1710.26" y="461.2" width="2.7" height="6.1" fill="#2962ff"/>
<path d="M1717.99 459.3V476.5" stroke="#f23645" stroke-opacity="0.82" stroke-width="1.7"/>
<rect x="1715.74" y="460.3" width="4.5" height="15.1" fill="#f23645"/>
<path d="M1724.38 472.0V490.0" stroke="#f23645" stroke-opacity="0.82" stroke-width="1.7"/>
<rect x="1722.13" y="475.1" width="4.5" height="2.9" fill="#f23645"/>
<path d="M1730.77 474.4V491.6" stroke="#f23645" stroke-opacity="0.82" stroke-width="1.7"/>
<rect x="1728.52" y="478.0" width="4.5" height="5.8" fill="#f23645"/>
<path d="M1737.15 474.0V484.2" stroke="#089981" stroke-opacity="0.85" stroke-width="1.65"/>
<rect x="1734.90" y="480.2" width="4.5" height="3.5" fill="#089981"/>
<rect x="1735.80" y="481.1" width="2.7" height="1.7" fill="#2962ff"/>
<path d="M1743.54 478.2V495.8" stroke="#f23645" stroke-opacity="0.82" stroke-width="1.7"/>
<rect x="1741.29" y="479.6" width="4.5" height="11.4" fill="#f23645"/>
<path d="M1749.92 482.7V515.9" stroke="#f23645" stroke-opacity="0.82" stroke-width="1.7"/>
<rect x="1747.67" y="491.0" width="4.5" height="18.7" fill="#f23645"/>
<path d="M1756.31 497.9V520.0" stroke="#089981" stroke-opacity="0.85" stroke-width="1.65"/>
<rect x="1754.06" y="502.0" width="4.5" height="7.7" fill="#089981"/>
<rect x="1754.96" y="502.9" width="2.7" height="5.9" fill="#2962ff"/>
<path d="M1762.69 488.5V520.7" stroke="#f23645" stroke-opacity="0.82" stroke-width="1.7"/>
<rect x="1760.44" y="502.0" width="4.5" height="17.0" fill="#f23645"/>
<path d="M1769.08 502.4V533.1" stroke="#f23645" stroke-opacity="0.82" stroke-width="1.7"/>
<rect x="1766.83" y="518.4" width="4.5" height="13.5" fill="#f23645"/>
<path d="M1775.46 504.9V539.7" stroke="#089981" stroke-opacity="0.85" stroke-width="1.65"/>
<rect x="1773.21" y="507.6" width="4.5" height="24.3" fill="#089981"/>
<rect x="1774.11" y="508.5" width="2.7" height="22.5" fill="#2962ff"/>
<path d="M1781.85 495.2V509.7" stroke="#089981" stroke-opacity="0.85" stroke-width="1.65"/>
<rect x="1779.60" y="502.0" width="4.5" height="5.6" fill="#089981"/>
<rect x="1780.50" y="502.9" width="2.7" height="3.8" fill="#2962ff"/>
<path d="M1788.23 497.7V510.3" stroke="#f23645" stroke-opacity="0.82" stroke-width="1.7"/>
<rect x="1785.98" y="502.0" width="4.5" height="2.1" fill="#f23645"/>
<path d="M1794.62 497.9V510.3" stroke="#f23645" stroke-opacity="0.82" stroke-width="1.7"/>
<rect x="1792.37" y="504.1" width="4.5" height="5.0" fill="#f23645"/>
<path d="M1801.00 507.6V517.4" stroke="#f23645" stroke-opacity="0.82" stroke-width="1.7"/>
<rect x="1798.75" y="508.6" width="4.5" height="7.3" fill="#f23645"/>
<path d="M1807.38 514.9V524.2" stroke="#f23645" stroke-opacity="0.82" stroke-width="1.7"/>
<rect x="1805.13" y="515.9" width="4.5" height="2.5" fill="#f23645"/>
<path d="M1813.77 512.4V526.3" stroke="#f23645" stroke-opacity="0.82" stroke-width="1.7"/>
<rect x="1811.52" y="518.4" width="4.5" height="7.3" fill="#f23645"/>
<path d="M1820.15 513.8V526.9" stroke="#089981" stroke-opacity="0.85" stroke-width="1.65"/>
<rect x="1817.90" y="523.6" width="4.5" height="2.7" fill="#089981"/>
<rect x="1818.81" y="524.5" width="2.7" height="0.9" fill="#2962ff"/>
<path d="M1826.54 514.9V523.6" stroke="#089981" stroke-opacity="0.85" stroke-width="1.65"/>
<rect x="1824.29" y="516.5" width="4.5" height="6.2" fill="#089981"/>
<rect x="1825.19" y="517.4" width="2.7" height="4.4" fill="#2962ff"/>
<path d="M1832.92 514.2V520.0" stroke="#f23645" stroke-opacity="0.82" stroke-width="1.7"/>
<rect x="1830.67" y="515.9" width="4.5" height="1.7" fill="#f23645"/>
<path d="M1839.31 506.0V522.1" stroke="#f23645" stroke-opacity="0.82" stroke-width="1.7"/>
<rect x="1837.06" y="517.6" width="4.5" height="3.9" fill="#f23645"/>
<path d="M1845.69 512.4V522.7" stroke="#089981" stroke-opacity="0.85" stroke-width="1.65"/>
<rect x="1843.44" y="514.9" width="4.5" height="6.6" fill="#089981"/>
<rect x="1844.35" y="515.8" width="2.7" height="4.8" fill="#2962ff"/>
<path d="M1852.08 513.8V530.8" stroke="#f23645" stroke-opacity="0.82" stroke-width="1.7"/>
<rect x="1849.83" y="514.9" width="4.5" height="8.7" fill="#f23645"/>
<path d="M1858.46 514.5V526.9" stroke="#089981" stroke-opacity="0.85" stroke-width="1.65"/>
<rect x="1856.21" y="514.9" width="4.5" height="9.3" fill="#089981"/>
<rect x="1857.12" y="515.8" width="2.7" height="7.5" fill="#2962ff"/>
<path d="M1864.85 478.6V516.9" stroke="#089981" stroke-opacity="0.85" stroke-width="1.65"/>
<rect x="1862.60" y="484.4" width="4.5" height="30.9" fill="#089981"/>
<rect x="1863.50" y="485.3" width="2.7" height="29.1" fill="#2962ff"/>
<path d="M1871.23 452.7V489.6" stroke="#f23645" stroke-opacity="0.82" stroke-width="1.7"/>
<rect x="1868.98" y="483.6" width="4.5" height="1.6" fill="#f23645"/>
<line x1="1283" y1="223" x2="1884" y2="539" stroke="#9c27b0" stroke-width="2.7" stroke-linecap="round"/>
</g>
<g clip-path="url(#cpPPO)">
<line x1="12" y1="763.5" x2="1938" y2="763.5" stroke="#8a8d96" stroke-width="1.1" stroke-dasharray="1.4 2.06"/>
<rect x="10.60" y="758.4" width="5.2" height="5.1" fill="#b2dfdb"/>
<rect x="16.98" y="751.7" width="5.2" height="11.8" fill="#26a69a"/>
<rect x="23.37" y="751.0" width="5.2" height="12.5" fill="#26a69a"/>
<rect x="29.76" y="752.4" width="5.2" height="11.1" fill="#b2dfdb"/>
<rect x="36.14" y="753.9" width="5.2" height="9.6" fill="#b2dfdb"/>
<rect x="42.52" y="753.4" width="5.2" height="10.1" fill="#26a69a"/>
<rect x="48.91" y="753.2" width="5.2" height="10.3" fill="#26a69a"/>
<rect x="55.29" y="753.6" width="5.2" height="9.9" fill="#b2dfdb"/>
<rect x="61.68" y="756.8" width="5.2" height="6.7" fill="#b2dfdb"/>
<rect x="68.06" y="759.3" width="5.2" height="4.2" fill="#b2dfdb"/>
<rect x="74.45" y="763.5" width="5.2" height="1.0" fill="#ef5350"/>
<rect x="80.84" y="763.5" width="5.2" height="6.2" fill="#ef5350"/>
<rect x="87.22" y="763.5" width="5.2" height="8.8" fill="#ef5350"/>
<rect x="93.61" y="763.5" width="5.2" height="11.4" fill="#ef5350"/>
<rect x="99.99" y="763.5" width="5.2" height="11.0" fill="#ffcdd2"/>
<rect x="106.38" y="763.5" width="5.2" height="13.3" fill="#ef5350"/>
<rect x="112.76" y="763.5" width="5.2" height="12.7" fill="#ffcdd2"/>
<rect x="119.15" y="763.5" width="5.2" height="9.7" fill="#ffcdd2"/>
<rect x="125.53" y="763.5" width="5.2" height="6.8" fill="#ffcdd2"/>
<rect x="131.91" y="763.5" width="5.2" height="10.8" fill="#ef5350"/>
<rect x="138.30" y="763.5" width="5.2" height="13.1" fill="#ef5350"/>
<rect x="144.69" y="763.5" width="5.2" height="16.9" fill="#ef5350"/>
<rect x="151.07" y="763.5" width="5.2" height="10.5" fill="#ffcdd2"/>
<rect x="157.45" y="763.5" width="5.2" height="8.1" fill="#ffcdd2"/>
<rect x="163.84" y="763.5" width="5.2" height="4.2" fill="#ffcdd2"/>
<rect x="170.22" y="760.4" width="5.2" height="3.1" fill="#26a69a"/>
<rect x="176.61" y="756.8" width="5.2" height="6.7" fill="#26a69a"/>
<rect x="182.99" y="754.2" width="5.2" height="9.3" fill="#26a69a"/>
<rect x="189.38" y="754.1" width="5.2" height="9.4" fill="#26a69a"/>
<rect x="195.76" y="754.2" width="5.2" height="9.3" fill="#b2dfdb"/>
<rect x="202.15" y="754.9" width="5.2" height="8.6" fill="#b2dfdb"/>
<rect x="208.53" y="755.7" width="5.2" height="7.8" fill="#b2dfdb"/>
<rect x="214.92" y="755.5" width="5.2" height="8.0" fill="#26a69a"/>
<rect x="221.30" y="755.9" width="5.2" height="7.6" fill="#b2dfdb"/>
<rect x="227.69" y="756.0" width="5.2" height="7.5" fill="#b2dfdb"/>
<rect x="234.07" y="752.5" width="5.2" height="11.0" fill="#26a69a"/>
<rect x="240.46" y="750.5" width="5.2" height="13.0" fill="#26a69a"/>
<rect x="246.84" y="750.3" width="5.2" height="13.2" fill="#26a69a"/>
<rect x="253.23" y="751.2" width="5.2" height="12.3" fill="#b2dfdb"/>
<rect x="259.61" y="752.1" width="5.2" height="11.4" fill="#b2dfdb"/>
<rect x="266.00" y="751.5" width="5.2" height="12.0" fill="#26a69a"/>
<rect x="272.38" y="750.5" width="5.2" height="13.0" fill="#26a69a"/>
<rect x="278.77" y="752.2" width="5.2" height="11.3" fill="#b2dfdb"/>
<rect x="285.15" y="755.2" width="5.2" height="8.3" fill="#b2dfdb"/>
<rect x="291.54" y="756.9" width="5.2" height="6.6" fill="#b2dfdb"/>
<rect x="297.92" y="758.5" width="5.2" height="5.0" fill="#b2dfdb"/>
<rect x="304.31" y="760.3" width="5.2" height="3.2" fill="#b2dfdb"/>
<rect x="310.69" y="762.6" width="5.2" height="0.9" fill="#b2dfdb"/>
<rect x="317.08" y="763.5" width="5.2" height="1.4" fill="#ef5350"/>
<rect x="323.46" y="763.5" width="5.2" height="2.1" fill="#ef5350"/>
<rect x="329.85" y="763.5" width="5.2" height="3.2" fill="#ef5350"/>
<rect x="336.23" y="761.7" width="5.2" height="1.8" fill="#26a69a"/>
<rect x="342.62" y="758.2" width="5.2" height="5.3" fill="#26a69a"/>
<rect x="349.00" y="752.8" width="5.2" height="10.7" fill="#26a69a"/>
<rect x="355.39" y="753.1" width="5.2" height="10.4" fill="#b2dfdb"/>
<rect x="361.77" y="749.1" width="5.2" height="14.4" fill="#26a69a"/>
<rect x="368.16" y="746.6" width="5.2" height="16.9" fill="#26a69a"/>
<rect x="374.54" y="747.0" width="5.2" height="16.5" fill="#b2dfdb"/>
<rect x="380.93" y="752.8" width="5.2" height="10.7" fill="#b2dfdb"/>
<rect x="387.31" y="757.3" width="5.2" height="6.2" fill="#b2dfdb"/>
<rect x="393.70" y="761.4" width="5.2" height="2.1" fill="#b2dfdb"/>
<rect x="400.08" y="762.4" width="5.2" height="1.1" fill="#b2dfdb"/>
<rect x="406.47" y="763.5" width="5.2" height="1.1" fill="#ef5350"/>
<rect x="412.85" y="763.5" width="5.2" height="3.3" fill="#ef5350"/>
<rect x="419.24" y="763.5" width="5.2" height="3.7" fill="#ef5350"/>
<rect x="425.62" y="763.5" width="5.2" height="3.1" fill="#ffcdd2"/>
<rect x="432.01" y="763.5" width="5.2" height="6.3" fill="#ef5350"/>
<rect x="438.39" y="763.5" width="5.2" height="7.3" fill="#ef5350"/>
<rect x="444.78" y="763.5" width="5.2" height="7.5" fill="#ef5350"/>
<rect x="451.16" y="763.5" width="5.2" height="8.1" fill="#ef5350"/>
<rect x="457.55" y="763.5" width="5.2" height="8.1" fill="#ffcdd2"/>
<rect x="463.93" y="763.5" width="5.2" height="9.0" fill="#ef5350"/>
<rect x="470.32" y="763.5" width="5.2" height="10.1" fill="#ef5350"/>
<rect x="476.70" y="763.5" width="5.2" height="13.1" fill="#ef5350"/>
<rect x="483.09" y="763.5" width="5.2" height="13.5" fill="#ef5350"/>
<rect x="489.47" y="763.5" width="5.2" height="12.9" fill="#ffcdd2"/>
<rect x="495.86" y="763.5" width="5.2" height="11.5" fill="#ffcdd2"/>
<rect x="502.24" y="763.5" width="5.2" height="8.6" fill="#ffcdd2"/>
<rect x="508.63" y="763.5" width="5.2" height="7.6" fill="#ffcdd2"/>
<rect x="515.01" y="763.5" width="5.2" height="9.5" fill="#ef5350"/>
<rect x="521.40" y="763.5" width="5.2" height="8.2" fill="#ffcdd2"/>
<rect x="527.78" y="763.5" width="5.2" height="6.5" fill="#ffcdd2"/>
<rect x="534.17" y="763.5" width="5.2" height="2.5" fill="#ffcdd2"/>
<rect x="540.55" y="761.7" width="5.2" height="1.8" fill="#26a69a"/>
<rect x="546.94" y="759.4" width="5.2" height="4.1" fill="#26a69a"/>
<rect x="553.33" y="759.1" width="5.2" height="4.4" fill="#26a69a"/>
<rect x="559.71" y="761.3" width="5.2" height="2.2" fill="#b2dfdb"/>
<rect x="566.10" y="763.5" width="5.2" height="0.4" fill="#ef5350"/>
<rect x="572.48" y="763.5" width="5.2" height="2.1" fill="#ef5350"/>
<rect x="578.87" y="763.5" width="5.2" height="2.2" fill="#ef5350"/>
<rect x="585.25" y="763.5" width="5.2" height="0.1" fill="#ffcdd2"/>
<rect x="591.63" y="763.5" width="5.2" height="0.9" fill="#ef5350"/>
<rect x="598.02" y="763.5" width="5.2" height="1.0" fill="#ef5350"/>
<rect x="604.40" y="763.5" width="5.2" height="1.1" fill="#ef5350"/>
<rect x="610.79" y="763.5" width="5.2" height="2.2" fill="#ef5350"/>
<rect x="617.17" y="763.5" width="5.2" height="4.3" fill="#ef5350"/>
<rect x="623.56" y="763.5" width="5.2" height="6.6" fill="#ef5350"/>
<rect x="629.95" y="763.5" width="5.2" height="3.6" fill="#ffcdd2"/>
<rect x="636.33" y="763.5" width="5.2" height="0.5" fill="#ffcdd2"/>
<rect x="642.72" y="761.9" width="5.2" height="1.6" fill="#26a69a"/>
<rect x="649.10" y="762.9" width="5.2" height="0.6" fill="#b2dfdb"/>
<rect x="655.49" y="762.4" width="5.2" height="1.1" fill="#26a69a"/>
<rect x="661.87" y="760.7" width="5.2" height="2.8" fill="#26a69a"/>
<rect x="668.25" y="759.1" width="5.2" height="4.4" fill="#26a69a"/>
<rect x="674.64" y="757.4" width="5.2" height="6.1" fill="#26a69a"/>
<rect x="681.02" y="758.4" width="5.2" height="5.1" fill="#b2dfdb"/>
<rect x="687.41" y="757.4" width="5.2" height="6.1" fill="#26a69a"/>
<rect x="693.79" y="756.3" width="5.2" height="7.2" fill="#26a69a"/>
<rect x="700.18" y="757.0" width="5.2" height="6.5" fill="#b2dfdb"/>
<rect x="706.57" y="757.9" width="5.2" height="5.6" fill="#b2dfdb"/>
<rect x="712.95" y="757.2" width="5.2" height="6.3" fill="#26a69a"/>
<rect x="719.34" y="757.1" width="5.2" height="6.4" fill="#26a69a"/>
<rect x="725.72" y="756.3" width="5.2" height="7.2" fill="#26a69a"/>
<rect x="732.11" y="753.6" width="5.2" height="9.9" fill="#26a69a"/>
<rect x="738.49" y="748.6" width="5.2" height="14.9" fill="#26a69a"/>
<rect x="744.88" y="741.6" width="5.2" height="21.9" fill="#26a69a"/>
<rect x="751.26" y="738.5" width="5.2" height="25.0" fill="#26a69a"/>
<rect x="757.64" y="735.9" width="5.2" height="27.6" fill="#26a69a"/>
<rect x="764.03" y="733.2" width="5.2" height="30.3" fill="#26a69a"/>
<rect x="770.41" y="734.8" width="5.2" height="28.7" fill="#b2dfdb"/>
<rect x="776.80" y="735.0" width="5.2" height="28.5" fill="#b2dfdb"/>
<rect x="783.18" y="727.5" width="5.2" height="36.0" fill="#26a69a"/>
<rect x="789.57" y="727.4" width="5.2" height="36.1" fill="#26a69a"/>
<rect x="795.96" y="730.2" width="5.2" height="33.3" fill="#b2dfdb"/>
<rect x="802.34" y="734.2" width="5.2" height="29.3" fill="#b2dfdb"/>
<rect x="808.73" y="737.3" width="5.2" height="26.2" fill="#b2dfdb"/>
<rect x="815.11" y="741.8" width="5.2" height="21.7" fill="#b2dfdb"/>
<rect x="821.50" y="753.9" width="5.2" height="9.6" fill="#b2dfdb"/>
<rect x="827.88" y="763.5" width="5.2" height="0.2" fill="#ef5350"/>
<rect x="834.26" y="763.5" width="5.2" height="7.1" fill="#ef5350"/>
<rect x="840.65" y="763.5" width="5.2" height="11.6" fill="#ef5350"/>
<rect x="847.03" y="763.5" width="5.2" height="13.2" fill="#ef5350"/>
<rect x="853.42" y="763.5" width="5.2" height="16.6" fill="#ef5350"/>
<rect x="859.80" y="763.5" width="5.2" height="18.4" fill="#ef5350"/>
<rect x="866.19" y="763.5" width="5.2" height="20.1" fill="#ef5350"/>
<rect x="872.58" y="763.5" width="5.2" height="22.2" fill="#ef5350"/>
<rect x="878.96" y="763.5" width="5.2" height="24.2" fill="#ef5350"/>
<rect x="885.35" y="763.5" width="5.2" height="28.7" fill="#ef5350"/>
<rect x="891.73" y="763.5" width="5.2" height="26.8" fill="#ffcdd2"/>
<rect x="898.12" y="763.5" width="5.2" height="22.2" fill="#ffcdd2"/>
<rect x="904.50" y="763.5" width="5.2" height="20.8" fill="#ffcdd2"/>
<rect x="910.88" y="763.5" width="5.2" height="18.6" fill="#ffcdd2"/>
<rect x="917.27" y="763.5" width="5.2" height="9.7" fill="#ffcdd2"/>
<rect x="923.65" y="763.5" width="5.2" height="4.8" fill="#ffcdd2"/>
<rect x="930.04" y="763.5" width="5.2" height="3.0" fill="#ffcdd2"/>
<rect x="936.42" y="763.5" width="5.2" height="2.7" fill="#ffcdd2"/>
<rect x="942.81" y="763.5" width="5.2" height="3.8" fill="#ef5350"/>
<rect x="949.19" y="763.5" width="5.2" height="1.9" fill="#ffcdd2"/>
<rect x="955.58" y="763.5" width="5.2" height="0.6" fill="#ffcdd2"/>
<rect x="961.97" y="763.5" width="5.2" height="3.9" fill="#ef5350"/>
<rect x="968.35" y="763.5" width="5.2" height="6.0" fill="#ef5350"/>
<rect x="974.74" y="763.5" width="5.2" height="6.7" fill="#ef5350"/>
<rect x="981.12" y="763.5" width="5.2" height="7.3" fill="#ef5350"/>
<rect x="987.50" y="763.5" width="5.2" height="8.1" fill="#ef5350"/>
<rect x="993.89" y="763.5" width="5.2" height="12.4" fill="#ef5350"/>
<rect x="1000.27" y="763.5" width="5.2" height="12.8" fill="#ef5350"/>
<rect x="1006.66" y="763.5" width="5.2" height="14.6" fill="#ef5350"/>
<rect x="1013.04" y="763.5" width="5.2" height="10.4" fill="#ffcdd2"/>
<rect x="1019.43" y="763.5" width="5.2" height="7.9" fill="#ffcdd2"/>
<rect x="1025.82" y="763.5" width="5.2" height="6.4" fill="#ffcdd2"/>
<rect x="1032.20" y="763.5" width="5.2" height="8.5" fill="#ef5350"/>
<rect x="1038.59" y="763.5" width="5.2" height="6.3" fill="#ffcdd2"/>
<rect x="1044.97" y="763.5" width="5.2" height="5.4" fill="#ffcdd2"/>
<rect x="1051.36" y="763.5" width="5.2" height="4.6" fill="#ffcdd2"/>
<rect x="1057.74" y="763.5" width="5.2" height="7.0" fill="#ef5350"/>
<rect x="1064.12" y="763.5" width="5.2" height="8.0" fill="#ef5350"/>
<rect x="1070.51" y="763.5" width="5.2" height="9.2" fill="#ef5350"/>
<rect x="1076.90" y="763.5" width="5.2" height="9.7" fill="#ef5350"/>
<rect x="1083.28" y="763.5" width="5.2" height="7.2" fill="#ffcdd2"/>
<rect x="1089.67" y="763.5" width="5.2" height="5.5" fill="#ffcdd2"/>
<rect x="1096.05" y="763.5" width="5.2" height="5.2" fill="#ffcdd2"/>
<rect x="1102.44" y="763.5" width="5.2" height="4.1" fill="#ffcdd2"/>
<rect x="1108.82" y="763.5" width="5.2" height="3.2" fill="#ffcdd2"/>
<rect x="1115.21" y="763.5" width="5.2" height="0.7" fill="#ffcdd2"/>
<rect x="1121.59" y="760.6" width="5.2" height="2.9" fill="#26a69a"/>
<rect x="1127.98" y="758.7" width="5.2" height="4.8" fill="#26a69a"/>
<rect x="1134.36" y="756.9" width="5.2" height="6.6" fill="#26a69a"/>
<rect x="1140.75" y="754.8" width="5.2" height="8.7" fill="#26a69a"/>
<rect x="1147.13" y="752.4" width="5.2" height="11.1" fill="#26a69a"/>
<rect x="1153.52" y="751.1" width="5.2" height="12.4" fill="#26a69a"/>
<rect x="1159.90" y="752.9" width="5.2" height="10.6" fill="#b2dfdb"/>
<rect x="1166.29" y="755.1" width="5.2" height="8.4" fill="#b2dfdb"/>
<rect x="1172.67" y="756.1" width="5.2" height="7.4" fill="#b2dfdb"/>
<rect x="1179.06" y="756.2" width="5.2" height="7.3" fill="#b2dfdb"/>
<rect x="1185.44" y="756.8" width="5.2" height="6.7" fill="#b2dfdb"/>
<rect x="1191.83" y="759.4" width="5.2" height="4.1" fill="#b2dfdb"/>
<rect x="1198.21" y="761.5" width="5.2" height="2.0" fill="#b2dfdb"/>
<rect x="1204.60" y="763.1" width="5.2" height="0.4" fill="#b2dfdb"/>
<rect x="1210.98" y="763.5" width="5.2" height="3.0" fill="#ef5350"/>
<rect x="1217.37" y="763.5" width="5.2" height="5.8" fill="#ef5350"/>
<rect x="1223.75" y="763.5" width="5.2" height="5.1" fill="#ffcdd2"/>
<rect x="1230.13" y="763.5" width="5.2" height="8.3" fill="#ef5350"/>
<rect x="1236.52" y="763.5" width="5.2" height="9.0" fill="#ef5350"/>
<rect x="1242.91" y="763.5" width="5.2" height="8.6" fill="#ffcdd2"/>
<rect x="1249.29" y="763.5" width="5.2" height="6.4" fill="#ffcdd2"/>
<rect x="1255.68" y="763.5" width="5.2" height="4.5" fill="#ffcdd2"/>
<rect x="1262.06" y="763.5" width="5.2" height="3.6" fill="#ffcdd2"/>
<rect x="1268.45" y="763.5" width="5.2" height="0.6" fill="#ffcdd2"/>
<rect x="1274.83" y="760.2" width="5.2" height="3.3" fill="#26a69a"/>
<rect x="1281.22" y="757.7" width="5.2" height="5.8" fill="#26a69a"/>
<rect x="1287.60" y="758.0" width="5.2" height="5.5" fill="#b2dfdb"/>
<rect x="1293.99" y="758.4" width="5.2" height="5.1" fill="#b2dfdb"/>
<rect x="1300.37" y="758.6" width="5.2" height="4.9" fill="#b2dfdb"/>
<rect x="1306.76" y="761.7" width="5.2" height="1.8" fill="#b2dfdb"/>
<rect x="1313.14" y="763.2" width="5.2" height="0.3" fill="#b2dfdb"/>
<rect x="1319.53" y="763.5" width="5.2" height="2.4" fill="#ef5350"/>
<rect x="1325.91" y="763.5" width="5.2" height="13.1" fill="#ef5350"/>
<rect x="1332.30" y="763.5" width="5.2" height="19.2" fill="#ef5350"/>
<rect x="1338.68" y="763.5" width="5.2" height="18.8" fill="#ffcdd2"/>
<rect x="1345.07" y="763.5" width="5.2" height="15.7" fill="#ffcdd2"/>
<rect x="1351.45" y="763.5" width="5.2" height="15.1" fill="#ffcdd2"/>
<rect x="1357.84" y="763.5" width="5.2" height="16.0" fill="#ef5350"/>
<rect x="1364.22" y="763.5" width="5.2" height="17.6" fill="#ef5350"/>
<rect x="1370.61" y="763.5" width="5.2" height="18.3" fill="#ef5350"/>
<rect x="1376.99" y="763.5" width="5.2" height="16.1" fill="#ffcdd2"/>
<rect x="1383.38" y="763.5" width="5.2" height="12.8" fill="#ffcdd2"/>
<rect x="1389.76" y="763.5" width="5.2" height="7.1" fill="#ffcdd2"/>
<rect x="1396.14" y="763.5" width="5.2" height="4.5" fill="#ffcdd2"/>
<rect x="1402.53" y="763.5" width="5.2" height="3.7" fill="#ffcdd2"/>
<rect x="1408.92" y="763.5" width="5.2" height="1.9" fill="#ffcdd2"/>
<rect x="1415.30" y="760.8" width="5.2" height="2.7" fill="#26a69a"/>
<rect x="1421.69" y="755.5" width="5.2" height="8.0" fill="#26a69a"/>
<rect x="1428.07" y="750.9" width="5.2" height="12.6" fill="#26a69a"/>
<rect x="1434.46" y="748.7" width="5.2" height="14.8" fill="#26a69a"/>
<rect x="1440.84" y="748.5" width="5.2" height="15.0" fill="#26a69a"/>
<rect x="1447.23" y="750.1" width="5.2" height="13.4" fill="#b2dfdb"/>
<rect x="1453.61" y="754.2" width="5.2" height="9.3" fill="#b2dfdb"/>
<rect x="1460.00" y="755.4" width="5.2" height="8.1" fill="#b2dfdb"/>
<rect x="1466.38" y="756.3" width="5.2" height="7.2" fill="#b2dfdb"/>
<rect x="1472.77" y="756.6" width="5.2" height="6.9" fill="#b2dfdb"/>
<rect x="1479.15" y="762.3" width="5.2" height="1.2" fill="#b2dfdb"/>
<rect x="1485.54" y="763.5" width="5.2" height="5.0" fill="#ef5350"/>
<rect x="1491.92" y="763.5" width="5.2" height="4.9" fill="#ffcdd2"/>
<rect x="1498.31" y="763.5" width="5.2" height="7.8" fill="#ef5350"/>
<rect x="1504.69" y="763.5" width="5.2" height="6.4" fill="#ffcdd2"/>
<rect x="1511.08" y="763.5" width="5.2" height="5.6" fill="#ffcdd2"/>
<rect x="1517.46" y="763.5" width="5.2" height="2.5" fill="#ffcdd2"/>
<rect x="1523.85" y="759.6" width="5.2" height="3.9" fill="#26a69a"/>
<rect x="1530.23" y="758.9" width="5.2" height="4.6" fill="#26a69a"/>
<rect x="1536.62" y="758.5" width="5.2" height="5.0" fill="#26a69a"/>
<rect x="1543.00" y="760.1" width="5.2" height="3.4" fill="#b2dfdb"/>
<rect x="1549.38" y="763.0" width="5.2" height="0.5" fill="#b2dfdb"/>
<rect x="1555.77" y="763.5" width="5.2" height="1.3" fill="#ef5350"/>
<rect x="1562.15" y="763.5" width="5.2" height="2.8" fill="#ef5350"/>
<rect x="1568.54" y="763.5" width="5.2" height="4.8" fill="#ef5350"/>
<rect x="1574.93" y="763.5" width="5.2" height="4.1" fill="#ffcdd2"/>
<rect x="1581.31" y="763.5" width="5.2" height="6.2" fill="#ef5350"/>
<rect x="1587.70" y="763.5" width="5.2" height="10.1" fill="#ef5350"/>
<rect x="1594.08" y="763.5" width="5.2" height="13.1" fill="#ef5350"/>
<rect x="1600.47" y="763.5" width="5.2" height="14.1" fill="#ef5350"/>
<rect x="1606.85" y="763.5" width="5.2" height="10.9" fill="#ffcdd2"/>
<rect x="1613.24" y="763.5" width="5.2" height="2.8" fill="#ffcdd2"/>
<rect x="1619.62" y="761.4" width="5.2" height="2.1" fill="#26a69a"/>
<rect x="1626.01" y="757.4" width="5.2" height="6.1" fill="#26a69a"/>
<rect x="1632.39" y="755.5" width="5.2" height="8.0" fill="#26a69a"/>
<rect x="1638.78" y="755.0" width="5.2" height="8.5" fill="#26a69a"/>
<rect x="1645.16" y="754.1" width="5.2" height="9.4" fill="#26a69a"/>
<rect x="1651.55" y="755.0" width="5.2" height="8.5" fill="#b2dfdb"/>
<rect x="1657.93" y="759.4" width="5.2" height="4.1" fill="#b2dfdb"/>
<rect x="1664.32" y="758.5" width="5.2" height="5.0" fill="#26a69a"/>
<rect x="1670.70" y="756.5" width="5.2" height="7.0" fill="#26a69a"/>
<rect x="1677.09" y="758.4" width="5.2" height="5.1" fill="#b2dfdb"/>
<rect x="1683.47" y="761.3" width="5.2" height="2.2" fill="#b2dfdb"/>
<rect x="1689.86" y="763.2" width="5.2" height="0.3" fill="#b2dfdb"/>
<rect x="1696.24" y="763.5" width="5.2" height="0.3" fill="#ef5350"/>
<rect x="1702.62" y="763.1" width="5.2" height="0.4" fill="#26a69a"/>
<rect x="1709.01" y="761.4" width="5.2" height="2.1" fill="#26a69a"/>
<rect x="1715.39" y="762.1" width="5.2" height="1.4" fill="#b2dfdb"/>
<rect x="1721.78" y="762.7" width="5.2" height="0.8" fill="#b2dfdb"/>
<rect x="1728.17" y="763.5" width="5.2" height="0.1" fill="#ef5350"/>
<rect x="1734.55" y="763.5" width="5.2" height="0.0" fill="#ffcdd2"/>
<rect x="1740.94" y="763.5" width="5.2" height="1.1" fill="#ef5350"/>
<rect x="1747.32" y="763.5" width="5.2" height="3.9" fill="#ef5350"/>
<rect x="1753.71" y="763.5" width="5.2" height="4.3" fill="#ef5350"/>
<rect x="1760.09" y="763.5" width="5.2" height="6.3" fill="#ef5350"/>
<rect x="1766.48" y="763.5" width="5.2" height="8.7" fill="#ef5350"/>
<rect x="1772.86" y="763.5" width="5.2" height="6.3" fill="#ffcdd2"/>
<rect x="1779.25" y="763.5" width="5.2" height="3.4" fill="#ffcdd2"/>
<rect x="1785.63" y="763.5" width="5.2" height="1.4" fill="#ffcdd2"/>
<rect x="1792.02" y="763.5" width="5.2" height="0.4" fill="#ffcdd2"/>
<rect x="1798.40" y="763.5" width="5.2" height="0.4" fill="#ffcdd2"/>
<rect x="1804.79" y="763.5" width="5.2" height="0.4" fill="#ef5350"/>
<rect x="1811.17" y="763.5" width="5.2" height="1.1" fill="#ef5350"/>
<rect x="1817.56" y="763.5" width="5.2" height="0.9" fill="#ffcdd2"/>
<rect x="1823.94" y="762.9" width="5.2" height="0.6" fill="#26a69a"/>
<rect x="1830.33" y="761.8" width="5.2" height="1.7" fill="#26a69a"/>
<rect x="1836.71" y="761.5" width="5.2" height="2.0" fill="#26a69a"/>
<rect x="1843.10" y="760.1" width="5.2" height="3.4" fill="#26a69a"/>
<rect x="1849.48" y="760.4" width="5.2" height="3.1" fill="#b2dfdb"/>
<rect x="1855.87" y="759.2" width="5.2" height="4.3" fill="#26a69a"/>
<rect x="1862.25" y="754.1" width="5.2" height="9.4" fill="#26a69a"/>
<rect x="1868.63" y="751.3" width="5.2" height="12.2" fill="#26a69a"/>
<polyline points="13.2,792.6 19.6,789.6 26.0,786.5 32.4,783.7 38.7,781.3 45.1,778.8 51.5,776.2 57.9,773.7 64.3,772.1 70.7,771.0 77.0,771.3 83.4,772.8 89.8,775.0 96.2,777.9 102.6,780.6 109.0,783.9 115.4,787.1 121.7,789.5 128.1,791.2 134.5,793.9 140.9,797.2 147.3,801.4 153.7,804.1 160.1,806.1 166.4,807.1 172.8,806.3 179.2,804.7 185.6,802.4 192.0,800.0 198.4,797.7 204.7,795.5 211.1,793.6 217.5,791.6 223.9,789.7 230.3,787.8 236.7,785.1 243.1,781.8 249.4,778.5 255.8,775.4 262.2,772.6 268.6,769.6 275.0,766.3 281.4,763.5 287.8,761.4 294.1,759.7 300.5,758.5 306.9,757.7 313.3,757.5 319.7,757.8 326.1,758.4 332.4,759.2 338.8,758.7 345.2,757.4 351.6,754.7 358.0,752.1 364.4,748.5 370.8,744.3 377.1,740.2 383.5,737.5 389.9,735.9 396.3,735.4 402.7,735.1 409.1,735.4 415.5,736.2 421.8,737.2 428.2,737.9 434.6,739.5 441.0,741.3 447.4,743.2 453.8,745.2 460.1,747.3 466.5,749.5 472.9,752.0 479.3,755.3 485.7,758.7 492.1,761.9 498.5,764.8 504.8,767.0 511.2,768.8 517.6,771.2 524.0,773.3 530.4,774.9 536.8,775.5 543.2,775.1 549.5,774.0 555.9,772.9 562.3,772.4 568.7,772.5 575.1,773.0 581.5,773.6 587.9,773.6 594.2,773.8 600.6,774.1 607.0,774.3 613.4,774.9 619.8,775.9 626.2,777.6 632.5,778.5 638.9,778.6 645.3,778.2 651.7,778.1 658.1,777.8 664.5,777.1 670.9,776.0 677.2,774.5 683.6,773.2 690.0,771.7 696.4,769.9 702.8,768.3 709.2,766.8 715.6,765.3 721.9,763.7 728.3,761.9 734.7,759.4 741.1,755.7 747.5,750.2 753.9,744.0 760.2,737.1 766.6,729.5 773.0,722.3 779.4,715.2 785.8,706.2 792.2,697.1 798.6,688.8 804.9,681.5 811.3,674.9 817.7,669.5 824.1,667.1 830.5,667.2 836.9,668.9 843.2,671.8 849.6,675.1 856.0,679.3 862.4,683.9 868.8,688.9 875.2,694.4 881.6,700.5 887.9,707.7 894.3,714.4 900.7,719.9 907.1,725.1 913.5,729.7 919.9,732.2 926.3,733.4 932.6,734.1 939.0,734.8 945.4,735.8 951.8,736.2 958.2,736.4 964.6,737.3 971.0,738.8 977.3,740.5 983.7,742.3 990.1,744.3 996.5,747.4 1002.9,750.6 1009.3,754.3 1015.6,756.9 1022.0,758.9 1028.4,760.5 1034.8,762.6 1041.2,764.2 1047.6,765.5 1054.0,766.7 1060.3,768.4 1066.7,770.4 1073.1,772.7 1079.5,775.2 1085.9,777.0 1092.3,778.3 1098.7,779.6 1105.0,780.7 1111.4,781.5 1117.8,781.6 1124.2,780.9 1130.6,779.7 1137.0,778.1 1143.3,775.9 1149.7,773.1 1156.1,770.0 1162.5,767.4 1168.9,765.3 1175.3,763.4 1181.7,761.6 1188.0,759.9 1194.4,758.9 1200.8,758.4 1207.2,758.3 1213.6,759.1 1220.0,760.5 1226.3,761.8 1232.7,763.8 1239.1,766.1 1245.5,768.2 1251.9,769.8 1258.3,771.0 1264.7,771.9 1271.0,772.0 1277.4,771.2 1283.8,769.7 1290.2,768.4 1296.6,767.1 1303.0,765.8 1309.4,765.4 1315.7,765.3 1322.1,765.9 1328.5,769.2 1334.9,774.0 1341.3,778.7 1347.7,782.7 1354.0,786.4 1360.4,790.4 1366.8,794.8 1373.2,799.4 1379.6,803.4 1386.0,806.6 1392.4,808.4 1398.7,809.5 1405.1,810.5 1411.5,810.9 1417.9,810.3 1424.3,808.2 1430.7,805.1 1437.1,801.4 1443.4,797.7 1449.8,794.3 1456.2,792.0 1462.6,790.0 1469.0,788.2 1475.4,786.4 1481.8,786.1 1488.1,787.4 1494.5,788.6 1500.9,790.5 1507.3,792.1 1513.7,793.5 1520.1,794.2 1526.4,793.2 1532.8,792.1 1539.2,790.8 1545.6,789.9 1552.0,789.8 1558.4,790.2 1564.8,790.9 1571.1,792.1 1577.5,793.1 1583.9,794.7 1590.3,797.2 1596.7,800.5 1603.1,804.0 1609.5,806.7 1615.8,807.4 1622.2,806.9 1628.6,805.4 1635.0,803.4 1641.4,801.2 1647.8,798.9 1654.1,796.8 1660.5,795.8 1666.9,794.5 1673.3,792.8 1679.7,791.5 1686.1,790.9 1692.5,790.9 1698.8,790.9 1705.2,790.8 1711.6,790.3 1718.0,790.0 1724.4,789.8 1730.8,789.8 1737.2,789.8 1743.5,790.1 1749.9,791.1 1756.3,792.1 1762.7,793.7 1769.1,795.9 1775.5,797.5 1781.8,798.3 1788.2,798.7 1794.6,798.8 1801.0,798.9 1807.4,799.0 1813.8,799.2 1820.2,799.5 1826.5,799.3 1832.9,798.9 1839.3,798.4 1845.7,797.6 1852.1,796.8 1858.5,795.7 1864.8,793.4 1871.2,790.3" fill="none" stroke="#ff6d00" stroke-width="1.3" stroke-linejoin="round"/>
<polyline points="13.2,787.4 19.6,777.8 26.0,774.0 32.4,772.6 38.7,771.8 45.1,768.7 51.5,765.9 57.9,763.8 64.3,765.4 70.7,766.8 77.0,772.3 83.4,779.0 89.8,783.8 96.2,789.3 102.6,791.6 109.0,797.2 115.4,799.8 121.7,799.2 128.1,798.0 134.5,804.7 140.9,810.3 147.3,818.4 153.7,814.5 160.1,814.2 166.4,811.3 172.8,803.2 179.2,797.9 185.6,793.1 192.0,790.6 198.4,788.4 204.7,787.0 211.1,785.7 217.5,783.6 223.9,782.0 230.3,780.3 236.7,774.1 243.1,768.8 249.4,765.3 255.8,763.2 262.2,761.2 268.6,757.5 275.0,753.3 281.4,752.2 287.8,753.1 294.1,753.1 300.5,753.5 306.9,754.5 313.3,756.6 319.7,759.2 326.1,760.5 332.4,762.4 338.8,756.9 345.2,752.1 351.6,744.0 358.0,741.7 364.4,734.1 370.8,727.4 377.1,723.7 383.5,726.8 389.9,729.8 396.3,733.3 402.7,734.1 409.1,736.5 415.5,739.5 421.8,740.9 428.2,741.0 434.6,745.8 441.0,748.6 447.4,750.7 453.8,753.4 460.1,755.4 466.5,758.6 472.9,762.1 479.3,768.5 485.7,772.2 492.1,774.8 498.5,776.3 504.8,775.6 511.2,776.4 517.6,780.7 524.0,781.5 530.4,781.4 536.8,778.0 543.2,773.2 549.5,769.9 555.9,768.6 562.3,770.1 568.7,772.8 575.1,775.1 581.5,775.7 587.9,773.7 594.2,774.7 600.6,775.0 607.0,775.4 613.4,777.1 619.8,780.2 626.2,784.2 632.5,782.1 638.9,779.1 645.3,776.6 651.7,777.5 658.1,776.7 664.5,774.4 670.9,771.6 677.2,768.4 683.6,768.1 690.0,765.5 696.4,762.7 702.8,761.8 709.2,761.2 715.6,758.9 721.9,757.3 728.3,754.6 734.7,749.5 741.1,740.8 747.5,728.3 753.9,719.0 760.2,709.4 766.6,699.2 773.0,693.6 779.4,686.7 785.8,670.1 792.2,661.0 798.6,655.5 804.9,652.1 811.3,648.8 817.7,647.8 824.1,657.6 830.5,667.3 836.9,676.1 843.2,683.4 849.6,688.3 856.0,695.8 862.4,702.3 868.8,709.0 875.2,716.6 881.6,724.7 887.9,736.3 894.3,741.2 900.7,742.1 907.1,745.9 913.5,748.3 919.9,741.9 926.3,738.1 932.6,737.1 939.0,737.5 945.4,739.6 951.8,738.1 958.2,736.9 964.6,741.2 971.0,744.8 977.3,747.1 983.7,749.6 990.1,752.4 996.5,759.9 1002.9,763.5 1009.3,768.8 1015.6,767.3 1022.0,766.8 1028.4,766.9 1034.8,771.1 1041.2,770.4 1047.6,770.9 1054.0,771.3 1060.3,775.4 1066.7,778.5 1073.1,781.9 1079.5,784.9 1085.9,784.2 1092.3,783.9 1098.7,784.8 1105.0,784.8 1111.4,784.6 1117.8,782.4 1124.2,778.0 1130.6,774.9 1137.0,771.5 1143.3,767.2 1149.7,762.0 1156.1,757.7 1162.5,756.7 1168.9,756.9 1175.3,756.1 1181.7,754.3 1188.0,753.3 1194.4,754.8 1200.8,756.4 1207.2,757.9 1213.6,762.1 1220.0,766.3 1226.3,766.9 1232.7,772.1 1239.1,775.1 1245.5,776.8 1251.9,776.3 1258.3,775.4 1264.7,775.5 1271.0,772.6 1277.4,767.8 1283.8,763.9 1290.2,762.9 1296.6,762.0 1303.0,760.9 1309.4,763.6 1315.7,765.1 1322.1,768.3 1328.5,782.4 1334.9,793.2 1341.3,797.5 1347.7,798.4 1354.0,801.6 1360.4,806.4 1366.8,812.4 1373.2,817.8 1379.6,819.5 1386.0,819.4 1392.4,815.5 1398.7,814.0 1405.1,814.2 1411.5,812.8 1417.9,807.6 1424.3,800.2 1430.7,792.5 1437.1,786.7 1443.4,782.6 1449.8,780.9 1456.2,782.7 1462.6,781.8 1469.0,781.0 1475.4,779.5 1481.8,784.9 1488.1,792.3 1494.5,793.5 1500.9,798.4 1507.3,798.5 1513.7,799.2 1520.1,796.7 1526.4,789.3 1532.8,787.5 1539.2,785.8 1545.6,786.5 1552.0,789.4 1558.4,791.5 1564.8,793.7 1571.1,796.9 1577.5,797.3 1583.9,800.8 1590.3,807.2 1596.7,813.6 1603.1,818.0 1609.5,817.6 1615.8,810.2 1622.2,804.8 1628.6,799.3 1635.0,795.4 1641.4,792.7 1647.8,789.5 1654.1,788.3 1660.5,791.7 1666.9,789.5 1673.3,785.8 1679.7,786.3 1686.1,788.8 1692.5,790.5 1698.8,791.3 1705.2,790.4 1711.6,788.2 1718.0,788.6 1724.4,789.0 1730.8,789.9 1737.2,789.8 1743.5,791.2 1749.9,795.0 1756.3,796.4 1762.7,800.0 1769.1,804.6 1775.5,803.7 1781.8,801.7 1788.2,800.1 1794.6,799.2 1801.0,799.3 1807.4,799.4 1813.8,800.3 1820.2,800.3 1826.5,798.7 1832.9,797.2 1839.3,796.4 1845.7,794.2 1852.1,793.7 1858.5,791.4 1864.8,784.0 1871.2,778.1" fill="none" stroke="#2196f3" stroke-width="1.3" stroke-linejoin="round"/>
<circle cx="77.0" cy="772.3" r="4.8" fill="#ff0000"/>
<circle cx="172.8" cy="803.2" r="4.8" fill="#008000"/>
<circle cx="319.7" cy="759.2" r="4.8" fill="#ff0000"/>
<circle cx="338.8" cy="756.9" r="4.8" fill="#008000"/>
<circle cx="409.1" cy="736.5" r="4.8" fill="#ff0000"/>
<circle cx="543.2" cy="773.2" r="4.8" fill="#008000"/>
<circle cx="568.7" cy="772.8" r="4.8" fill="#ff0000"/>
<circle cx="645.3" cy="776.6" r="4.8" fill="#008000"/>
<circle cx="830.5" cy="667.3" r="4.8" fill="#ff0000"/>
<circle cx="1124.2" cy="778.0" r="4.8" fill="#008000"/>
<circle cx="1213.6" cy="762.1" r="4.8" fill="#ff0000"/>
<circle cx="1277.4" cy="767.8" r="4.8" fill="#008000"/>
<circle cx="1322.1" cy="768.3" r="4.8" fill="#ff0000"/>
<circle cx="1417.9" cy="807.6" r="4.8" fill="#008000"/>
<circle cx="1488.1" cy="792.3" r="4.8" fill="#ff0000"/>
<circle cx="1526.4" cy="789.3" r="4.8" fill="#008000"/>
<circle cx="1558.4" cy="791.5" r="4.8" fill="#ff0000"/>
<circle cx="1622.2" cy="804.8" r="4.8" fill="#008000"/>
<circle cx="1698.8" cy="791.3" r="4.8" fill="#ff0000"/>
<circle cx="1705.2" cy="790.4" r="4.8" fill="#008000"/>
<circle cx="1730.8" cy="789.9" r="4.8" fill="#ff0000"/>
<circle cx="1826.5" cy="798.7" r="4.8" fill="#008000"/>
</g>
<g clip-path="url(#cpRSI)">
<rect x="12" y="910.5" width="1926" height="110.0" fill="rgba(126,87,194,0.10)"/>
<line x1="12" y1="910.5" x2="1938" y2="910.5" stroke="#7f828c" stroke-width="1.1" stroke-dasharray="6.3 6.0"/>
<line x1="12" y1="965.5" x2="1938" y2="965.5" stroke="#b4b6be" stroke-width="1.1" stroke-dasharray="6.3 6.0"/>
<line x1="12" y1="1020.5" x2="1938" y2="1020.5" stroke="#7f828c" stroke-width="1.1" stroke-dasharray="6.3 6.0"/>
<polygon points="739.0,910.5 741.1,904.2 747.5,887.7 753.9,886.9 760.2,880.2 766.6,873.1 773.0,883.8 779.4,876.6 785.8,860.2 792.2,872.6 798.6,872.3 804.9,871.2 811.3,867.5 817.7,867.4 822.0,910.5" fill="url(#obg)"/>
<polygon points="1327.0,1020.5 1328.5,1030.3 1334.9,1028.6 1336.9,1020.5" fill="url(#osg)"/>
<polyline points="13.2,974.6 19.6,972.7 26.0,971.7 32.4,970.9 38.7,970.2 45.1,969.1 51.5,967.8 57.9,966.6 64.3,966.5 70.7,966.5 77.0,967.4 83.4,968.9 89.8,970.2 96.2,972.0 102.6,973.0 109.0,976.5 115.4,978.8 121.7,980.1 128.1,981.2 134.5,984.4 140.9,987.7 147.3,991.7 153.7,992.3 160.1,993.5 166.4,993.1 172.8,991.1 179.2,989.5 185.6,987.4 192.0,986.2 198.4,984.3 204.7,983.0 211.1,982.4 217.5,981.6 223.9,979.3 230.3,976.8 236.7,972.1 243.1,969.9 249.4,967.4 255.8,965.7 262.2,965.0 268.6,963.3 275.0,961.1 281.4,959.5 287.8,958.7 294.1,957.3 300.5,956.1 306.9,955.4 313.3,955.2 319.7,955.5 326.1,956.9 332.4,958.9 338.8,957.5 345.2,955.7 351.6,952.8 358.0,952.4 364.4,951.0 370.8,948.3 377.1,945.4 383.5,945.0 389.9,944.6 396.3,944.3 402.7,942.6 409.1,941.0 415.5,940.3 421.8,938.6 428.2,939.5 434.6,942.4 441.0,946.1 447.4,947.9 453.8,951.7 460.1,955.6 466.5,959.6 472.9,961.8 479.3,965.2 485.7,967.6 492.1,970.6 498.5,972.8 504.8,973.8 511.2,976.0 517.6,979.8 524.0,980.8 530.4,981.9 536.8,981.7 543.2,980.5 549.5,979.6 555.9,978.7 562.3,978.5 568.7,977.5 575.1,977.3 581.5,976.7 587.9,975.2 594.2,975.7 600.6,975.4 607.0,973.9 613.4,974.1 619.8,975.3 626.2,978.5 632.5,979.8 638.9,980.5 645.3,980.7 651.7,980.9 658.1,980.0 664.5,978.3 670.9,976.8 677.2,976.0 683.6,975.1 690.0,973.5 696.4,971.5 702.8,969.4 709.2,966.7 715.6,962.6 721.9,961.0 728.3,959.3 734.7,956.3 741.1,950.7 747.5,944.6 753.9,939.1 760.2,933.4 766.6,927.7 773.0,921.6 779.4,916.0 785.8,909.5 792.2,903.4 798.6,897.1 804.9,891.5 811.3,885.7 817.7,880.5 824.1,881.0 830.5,883.3 836.9,886.7 843.2,890.1 849.6,893.5 856.0,898.6 862.4,902.9 868.8,908.1 875.2,915.2 881.6,922.1 887.9,930.5 894.3,937.4 900.7,943.6 907.1,950.6 913.5,953.0 919.9,952.8 926.3,952.9 932.6,953.7 939.0,955.3 945.4,956.1 951.8,956.0 958.2,955.5 964.6,955.9 971.0,955.7 977.3,953.7 983.7,953.5 990.1,954.5 996.5,956.2 1002.9,957.3 1009.3,961.3 1015.6,963.1 1022.0,964.5 1028.4,965.9 1034.8,967.9 1041.2,969.7 1047.6,971.8 1054.0,972.3 1060.3,973.8 1066.7,975.6 1073.1,977.5 1079.5,979.3 1085.9,978.4 1092.3,978.5 1098.7,978.3 1105.0,979.7 1111.4,981.0 1117.8,981.3 1124.2,979.3 1130.6,978.9 1137.0,977.7 1143.3,975.9 1149.7,972.4 1156.1,968.7 1162.5,966.0 1168.9,963.6 1175.3,961.8 1181.7,959.4 1188.0,956.6 1194.4,955.4 1200.8,954.2 1207.2,954.0 1213.6,956.2 1220.0,958.6 1226.3,959.8 1232.7,963.5 1239.1,967.3 1245.5,970.9 1251.9,972.4 1258.3,973.4 1264.7,975.2 1271.0,976.2 1277.4,976.0 1283.8,974.5 1290.2,974.0 1296.6,973.3 1303.0,970.9 1309.4,969.9 1315.7,970.2 1322.1,969.4 1328.5,972.2 1334.9,975.2 1341.3,977.2 1347.7,978.5 1354.0,980.1 1360.4,983.7 1366.8,988.8 1373.2,994.0 1379.6,997.5 1386.0,1000.6 1392.4,1002.7 1398.7,1003.6 1405.1,1005.3 1411.5,1005.7 1417.9,1001.9 1424.3,997.2 1430.7,994.0 1437.1,991.7 1443.4,989.1 1449.8,986.5 1456.2,984.4 1462.6,981.3 1469.0,979.1 1475.4,977.0 1481.8,978.0 1488.1,979.3 1494.5,978.5 1500.9,979.0 1507.3,979.7 1513.7,981.4 1520.1,982.9 1526.4,982.7 1532.8,983.4 1539.2,983.5 1545.6,983.1 1552.0,984.1 1558.4,985.1 1564.8,986.5 1571.1,986.4 1577.5,984.8 1583.9,985.7 1590.3,986.5 1596.7,988.7 1603.1,990.5 1609.5,991.9 1615.8,992.8 1622.2,992.7 1628.6,992.5 1635.0,991.9 1641.4,990.9 1647.8,989.6 1654.1,988.7 1660.5,988.6 1666.9,987.5 1673.3,985.1 1679.7,983.0 1686.1,981.1 1692.5,979.3 1698.8,978.6 1705.2,979.5 1711.6,979.6 1718.0,980.8 1724.4,981.8 1730.8,982.9 1737.2,984.0 1743.5,985.1 1749.9,985.8 1756.3,987.6 1762.7,990.5 1769.1,993.0 1775.5,993.1 1781.8,992.9 1788.2,992.9 1794.6,993.5 1801.0,995.0 1807.4,995.9 1813.8,997.0 1820.2,997.7 1826.5,998.0 1832.9,997.8 1839.3,997.0 1845.7,996.1 1852.1,995.1 1858.5,992.7 1864.8,989.7 1871.2,987.1" fill="none" stroke="#fdd835" stroke-width="1.3" stroke-linejoin="round"/>
<polyline points="13.2,974.0 19.6,951.2 26.0,961.7 32.4,966.2 38.7,967.1 45.1,960.5 51.5,959.5 57.9,960.0 64.3,970.7 70.7,971.5 77.0,985.5 83.4,992.4 89.8,991.0 96.2,996.5 102.6,988.6 109.0,1000.1 115.4,993.7 121.7,983.7 128.1,982.4 134.5,1005.2 140.9,1007.0 147.3,1016.0 153.7,979.0 160.1,987.2 166.4,980.2 172.8,964.1 179.2,968.5 185.6,967.5 192.0,972.6 198.4,972.9 204.7,975.0 211.1,975.5 217.5,971.4 223.9,972.8 230.3,971.7 236.7,950.2 243.1,948.8 249.4,952.6 255.8,956.5 262.2,954.6 268.6,943.8 275.0,937.1 281.4,950.4 287.8,960.9 294.1,956.4 300.5,957.8 306.9,962.4 313.3,970.1 319.7,975.9 326.1,969.9 332.4,976.1 338.8,933.9 345.2,931.3 351.6,913.4 358.0,938.2 364.4,917.0 370.8,913.0 377.1,919.6 383.5,951.8 389.9,952.4 396.3,957.1 402.7,946.2 409.1,954.8 415.5,959.0 421.8,952.5 428.2,947.0 434.6,971.3 441.0,965.6 447.4,963.9 453.8,969.1 460.1,967.9 466.5,976.4 472.9,982.1 479.3,999.5 485.7,991.0 492.1,989.0 498.5,985.3 504.8,973.4 511.2,982.5 517.6,1000.9 524.0,984.5 530.4,980.7 536.8,962.2 543.2,952.2 549.5,955.0 555.9,963.5 562.3,978.9 568.7,986.6 575.1,987.9 581.5,980.3 587.9,964.7 594.2,980.4 600.6,977.9 607.0,979.2 613.4,987.8 619.8,998.0 626.2,1005.9 632.5,971.6 638.9,964.9 645.3,965.2 651.7,982.0 658.1,973.7 664.5,964.0 670.9,959.7 677.2,953.7 683.6,968.4 690.0,955.2 696.4,950.5 702.8,959.2 709.2,960.2 715.6,948.7 721.9,949.1 728.3,940.3 734.7,923.4 741.1,904.2 747.5,887.7 753.9,886.9 760.2,880.2 766.6,873.1 773.0,883.8 779.4,876.6 785.8,860.2 792.2,872.6 798.6,872.3 804.9,871.2 811.3,867.5 817.7,867.4 824.1,930.8 830.5,936.0 836.9,936.0 843.2,934.1 849.6,927.2 856.0,944.6 862.4,943.7 868.8,949.4 875.2,960.0 881.6,968.7 887.9,990.6 894.3,967.4 900.7,954.1 907.1,966.6 913.5,963.4 919.9,933.2 926.3,937.5 932.6,944.9 939.0,949.5 945.4,956.4 951.8,943.0 958.2,942.1 964.6,965.4 971.0,965.5 977.3,962.3 983.7,964.7 990.1,968.2 996.5,991.1 1002.9,978.9 1009.3,988.8 1015.6,962.6 1022.0,965.3 1028.4,967.9 1034.8,985.2 1041.2,967.2 1047.6,971.8 1054.0,972.1 1060.3,987.3 1066.7,987.3 1073.1,991.7 1079.5,993.5 1085.9,977.8 1092.3,979.8 1098.7,986.2 1105.0,982.8 1111.4,983.4 1117.8,971.6 1124.2,957.8 1130.6,961.0 1137.0,955.6 1143.3,947.1 1149.7,937.6 1156.1,936.0 1162.5,954.1 1168.9,959.4 1175.3,953.4 1181.7,945.5 1188.0,947.8 1194.4,964.7 1200.8,967.5 1207.2,968.2 1213.6,989.2 1220.0,994.2 1226.3,972.2 1232.7,998.6 1239.1,991.1 1245.5,987.1 1251.9,975.0 1258.3,973.0 1264.7,978.4 1271.0,959.1 1277.4,945.4 1283.8,944.6 1290.2,959.4 1296.6,958.6 1303.0,956.1 1309.4,980.7 1315.7,975.4 1322.1,988.2 1328.5,1030.3 1334.9,1028.6 1341.3,1003.2 1347.7,991.5 1354.0,1001.1 1360.4,1009.1 1366.8,1015.9 1373.2,1018.5 1379.6,1007.5 1386.0,1002.2 1392.4,985.5 1398.7,993.3 1405.1,999.2 1411.5,994.2 1417.9,976.1 1424.3,964.1 1430.7,957.7 1437.1,960.0 1443.4,964.1 1449.8,972.0 1456.2,986.9 1462.6,975.8 1469.0,975.8 1475.4,972.6 1481.8,1000.7 1488.1,1010.9 1494.5,987.9 1500.9,1001.1 1507.3,985.8 1513.7,988.9 1520.1,977.5 1526.4,958.0 1532.8,973.4 1539.2,973.5 1545.6,981.2 1552.0,989.6 1558.4,989.9 1564.8,992.7 1571.1,998.5 1577.5,989.0 1583.9,1001.0 1590.3,1011.9 1596.7,1016.0 1603.1,1015.2 1609.5,997.3 1615.8,969.6 1622.2,973.0 1628.6,969.8 1635.0,972.8 1641.4,976.0 1647.8,972.2 1654.1,979.3 1660.5,996.7 1666.9,974.5 1673.3,967.5 1679.7,981.7 1686.1,989.3 1692.5,989.8 1698.8,987.8 1705.2,981.8 1711.6,975.4 1718.0,985.6 1724.4,987.2 1730.8,991.1 1737.2,987.6 1743.5,995.2 1749.9,1007.1 1756.3,998.8 1762.7,1009.2 1769.1,1016.2 1775.5,991.3 1781.8,986.1 1788.2,987.5 1794.6,991.2 1801.0,996.1 1807.4,998.0 1813.8,1003.3 1820.2,1000.6 1826.5,991.4 1832.9,992.3 1839.3,996.0 1845.7,986.4 1852.1,995.1 1858.5,982.7 1864.8,948.9 1871.2,949.6" fill="none" stroke="#7e57c2" stroke-width="1.25" stroke-linejoin="round"/>
</g>
<rect x="1938.5" y="521" width="80.5" height="26.5" rx="2" fill="#673ab7"/>
<rect x="1942.6" y="35.6" width="89.2" height="29.2" rx="4.5" fill="#fff" stroke="#f1f2f5" stroke-width="1.5"/>
<text x="11.7" y="22.7" textLength="435.0" lengthAdjust="spacing" style="font-size:14.1px;fill:#262626;stroke:#262626;">crispus9 created with TradingView.com, Jan 03, 2026 11:42 UTC+3</text>
<text x="20.4" y="54.1" textLength="208.0" lengthAdjust="spacing" style="font-size:13.5px;fill:#131722;stroke:#131722;">XRP / U.S. Dollar · 1D · Coinbase</text>
<text x="236.0" y="54.1" textLength="10.4" lengthAdjust="spacing" style="font-size:13.5px;fill:#131722;stroke:#131722;">O</text>
<text x="247.3" y="54.1" textLength="45.8" lengthAdjust="spacing" style="font-size:13.5px;fill:#f23645;stroke:#f23645;">2.0059</text>
<text x="301.0" y="54.1" textLength="9.8" lengthAdjust="spacing" style="font-size:13.5px;fill:#131722;stroke:#131722;">H</text>
<text x="310.9" y="54.1" textLength="44.1" lengthAdjust="spacing" style="font-size:13.5px;fill:#f23645;stroke:#f23645;">2.1385</text>
<text x="362.8" y="54.1" textLength="7.5" lengthAdjust="spacing" style="font-size:13.5px;fill:#131722;stroke:#131722;">L</text>
<text x="371.2" y="54.1" textLength="41.2" lengthAdjust="spacing" style="font-size:13.5px;fill:#f23645;stroke:#f23645;">1.9821</text>
<text x="420.4" y="54.1" textLength="10.1" lengthAdjust="spacing" style="font-size:13.5px;fill:#131722;stroke:#131722;">C</text>
<text x="430.7" y="54.1" textLength="45.4" lengthAdjust="spacing" style="font-size:13.5px;fill:#f23645;stroke:#f23645;">2.0036</text>
<text x="484.5" y="54.1" textLength="19.9" lengthAdjust="spacing" style="font-size:13.5px;fill:#131722;stroke:#131722;">Vol</text>
<text x="504.6" y="54.1" textLength="37.3" lengthAdjust="spacing" style="font-size:13.5px;fill:#f23645;stroke:#f23645;">38.45</text>
<text x="544.3" y="54.1" textLength="11.5" lengthAdjust="spacing" style="font-size:13.5px;fill:#f23645;stroke:#f23645;">M</text>
<text x="20.4" y="73.4" textLength="117.6" lengthAdjust="spacing" style="font-size:13.5px;fill:#131722;stroke:#131722;">Supertrend (10, 3)</text>
<text x="164.2" y="73.4" textLength="46.1" lengthAdjust="spacing" style="font-size:13.5px;fill:#f23645;stroke:#f23645;">2.0568</text>
<text x="20.4" y="92.7" textLength="102.1" lengthAdjust="spacing" style="font-size:13.5px;fill:#131722;stroke:#131722;">EMA (50, close)</text>
<text x="131.2" y="92.7" textLength="46.5" lengthAdjust="spacing" style="font-size:13.5px;fill:#131722;stroke:#131722;">2.0396</text>
<text x="20.5" y="650.4" textLength="139.6" lengthAdjust="spacing" style="font-size:13.5px;fill:#131722;stroke:#131722;">PPO (12, 26, 9, close)</text>
<text x="168.2" y="650.4" textLength="43.7" lengthAdjust="spacing" style="font-size:13.5px;fill:#26a69a;stroke:#26a69a;">1.2532</text>
<text x="219.8" y="650.4" textLength="53.0" lengthAdjust="spacing" style="font-size:13.5px;fill:#2196f3;stroke:#2196f3;">−1.4966</text>
<text x="281.2" y="650.4" textLength="53.3" lengthAdjust="spacing" style="font-size:13.5px;fill:#ff6d00;stroke:#ff6d00;">−2.7498</text>
<text x="20.5" y="861.2" textLength="92.6" lengthAdjust="spacing" style="font-size:13.5px;fill:#131722;stroke:#131722;">RSI (14, close)</text>
<text x="121.3" y="861.2" textLength="36.7" lengthAdjust="spacing" style="font-size:13.5px;fill:#7e57c2;stroke:#7e57c2;">55.82</text>
<text x="165.7" y="861.2" textLength="36.2" lengthAdjust="spacing" style="font-size:13.5px;fill:#fdd835;stroke:#fdd835;">42.14</text>
<text x="151.4" y="73.1" text-anchor="middle" style="font-size:12.5px;fill:#131722;font-family:'DejaVu Sans',sans-serif">∅</text>
<text x="347.2" y="650.1" text-anchor="middle" style="font-size:12.5px;fill:#131722;font-family:'DejaVu Sans',sans-serif">∅</text>
<text x="364.9" y="650.1" text-anchor="middle" style="font-size:12.5px;fill:#131722;font-family:'DejaVu Sans',sans-serif">∅</text>
<text x="1950.8" y="112.9" textLength="60.2" lengthAdjust="spacing" style="font-size:18.2px;fill:#131722;stroke:#131722;">3.6000</text>
<text x="1950.8" y="160.3" textLength="60.2" lengthAdjust="spacing" style="font-size:18.2px;fill:#131722;stroke:#131722;">3.4000</text>
<text x="1950.8" y="207.7" textLength="60.2" lengthAdjust="spacing" style="font-size:18.2px;fill:#131722;stroke:#131722;">3.2000</text>
<text x="1950.8" y="255.1" textLength="60.2" lengthAdjust="spacing" style="font-size:18.2px;fill:#131722;stroke:#131722;">3.0000</text>
<text x="1950.8" y="302.5" textLength="60.2" lengthAdjust="spacing" style="font-size:18.2px;fill:#131722;stroke:#131722;">2.8000</text>
<text x="1950.8" y="349.9" textLength="60.2" lengthAdjust="spacing" style="font-size:18.2px;fill:#131722;stroke:#131722;">2.6000</text>
<text x="1950.8" y="397.3" textLength="60.2" lengthAdjust="spacing" style="font-size:18.2px;fill:#131722;stroke:#131722;">2.4000</text>
<text x="1950.8" y="444.7" textLength="60.2" lengthAdjust="spacing" style="font-size:18.2px;fill:#131722;stroke:#131722;">2.2000</text>
<text x="1950.8" y="492.1" textLength="60.2" lengthAdjust="spacing" style="font-size:18.2px;fill:#131722;stroke:#131722;">2.0000</text>
<text x="1950.8" y="586.9" textLength="60.2" lengthAdjust="spacing" style="font-size:18.2px;fill:#131722;stroke:#131722;">1.6000</text>
<text x="1950.6" y="672.6" textLength="71.9" lengthAdjust="spacing" style="font-size:18.2px;fill:#131722;stroke:#131722;">10.0000</text>
<text x="1950.6" y="721.2" textLength="60.3" lengthAdjust="spacing" style="font-size:18.2px;fill:#131722;stroke:#131722;">5.0000</text>
<text x="1950.6" y="769.9" textLength="60.3" lengthAdjust="spacing" style="font-size:18.2px;fill:#131722;stroke:#131722;">0.0000</text>
<text x="1950.6" y="818.5" textLength="71.9" lengthAdjust="spacing" style="font-size:18.2px;fill:#131722;stroke:#131722;">−5.0000</text>
<text x="1950.4" y="889.4" textLength="49.4" lengthAdjust="spacing" style="font-size:18.2px;fill:#131722;stroke:#131722;">80.00</text>
<text x="1950.4" y="944.4" textLength="49.4" lengthAdjust="spacing" style="font-size:18.2px;fill:#131722;stroke:#131722;">60.00</text>
<text x="1950.4" y="999.4" textLength="49.4" lengthAdjust="spacing" style="font-size:18.2px;fill:#131722;stroke:#131722;">40.00</text>
<text x="88.0" y="1073.9" textLength="29.5" lengthAdjust="spacing" style="font-size:18.4px;fill:#131722;stroke:#131722;">Apr</text>
<text x="276.7" y="1073.9" textLength="34.6" lengthAdjust="spacing" style="font-size:18.4px;fill:#131722;stroke:#131722;">May</text>
<text x="477.0" y="1073.9" textLength="30.2" lengthAdjust="spacing" style="font-size:18.4px;fill:#131722;stroke:#131722;">Jun</text>
<text x="671.8" y="1073.9" textLength="24.1" lengthAdjust="spacing" style="font-size:18.4px;fill:#131722;stroke:#131722;">Jul</text>
<text x="864.9" y="1073.9" textLength="33.0" lengthAdjust="spacing" style="font-size:18.4px;fill:#131722;stroke:#131722;">Aug</text>
<text x="1063.1" y="1073.9" textLength="32.7" lengthAdjust="spacing" style="font-size:18.4px;fill:#131722;stroke:#131722;">Sep</text>
<text x="1255.5" y="1073.9" textLength="30.6" lengthAdjust="spacing" style="font-size:18.4px;fill:#131722;stroke:#131722;">Oct</text>
<text x="1452.0" y="1073.9" textLength="33.6" lengthAdjust="spacing" style="font-size:18.4px;fill:#131722;stroke:#131722;">Nov</text>
<text x="1643.7" y="1073.9" textLength="33.3" lengthAdjust="spacing" style="font-size:18.4px;fill:#131722;stroke:#131722;">Dec</text>
<text x="1835.1" y="1073.9" textLength="46.7" lengthAdjust="spacing" style="font-size:19.4px;fill:#131722;stroke:#131722;font-weight:bold;">2026</text>
<text x="1951.0" y="541.4" textLength="60.0" lengthAdjust="spacing" style="font-size:18.2px;fill:#fff;stroke:none;">1.7941</text>
<text x="1952.7" y="55.0" textLength="29.1" lengthAdjust="spacing" style="font-size:13.7px;fill:#131722;stroke:#131722;">USD</text>
<text x="55.8" y="1131.3" textLength="138.8" lengthAdjust="spacing" style="font-size:23.2px;fill:#131722;stroke:#131722;font-weight:bold;">TradingView</text>
<!-- logo -->
<g fill="#131722" transform="translate(13.9,1114.2)">
<path d="M0 0H12.8V17.1H6V7.8H0Z"/>
<circle cx="18.9" cy="3.8" r="3.6"/>
<path d="M24.2 0H33.7L26.9 17.1H18.2Z"/>
</g>
</svg>
</body></html>
